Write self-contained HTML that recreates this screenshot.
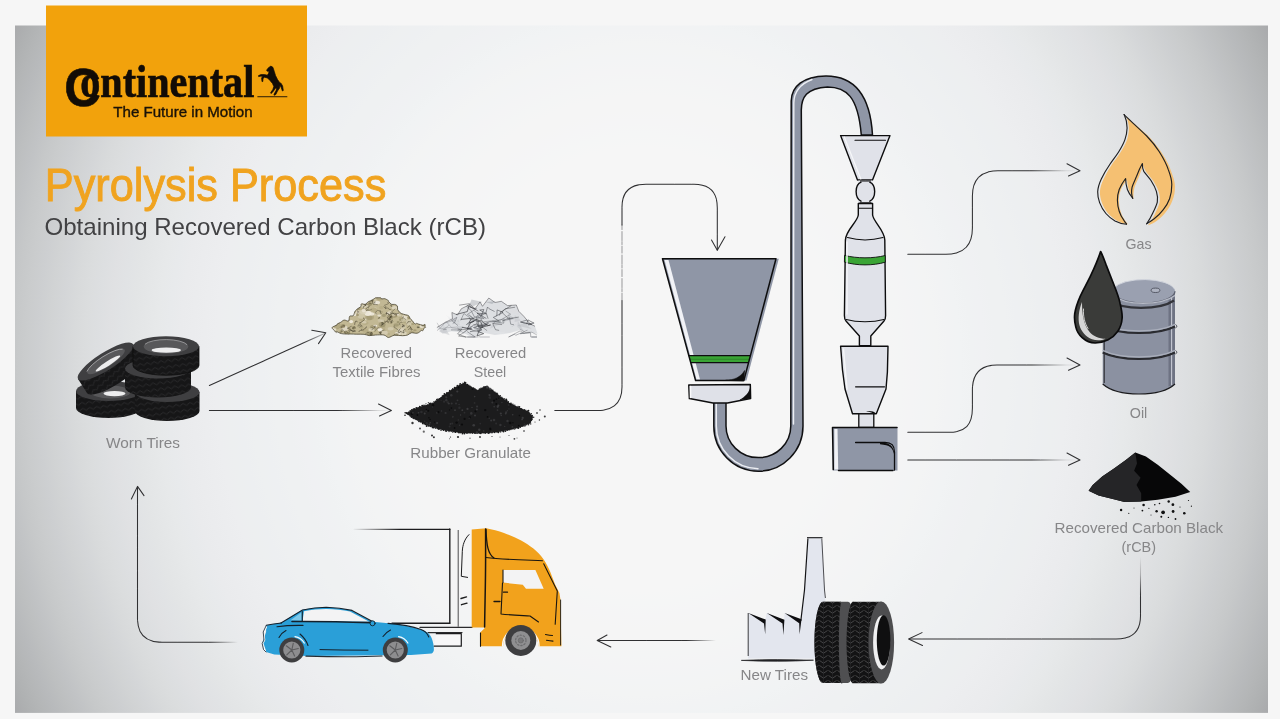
<!DOCTYPE html>
<html lang="en">
<head>
<meta charset="utf-8">
<title>Pyrolysis Process - Obtaining Recovered Carbon Black (rCB)</title>
<style>
html,body{margin:0;padding:0;background:#f6f6f6;}
body{width:1280px;height:719px;overflow:hidden;font-family:"Liberation Sans",sans-serif;}
svg{display:block;position:absolute;left:0;top:0;will-change:transform;}
text{font-family:"Liberation Sans",sans-serif;}
.lbl{font-size:15px;fill:#868688;text-anchor:middle;}
.ln{fill:none;stroke:#303032;stroke-width:1.05;stroke-linecap:round;stroke-linejoin:round;}
.ol{fill:none;stroke:#111;stroke-width:1.4;stroke-linecap:round;stroke-linejoin:round;}
</style>
</head>
<body>
<svg width="1280" height="719" viewBox="0 0 1280 719">
<!-- 00_defs -->
<defs>
  <radialGradient id="bgR" gradientUnits="userSpaceOnUse" cx="0" cy="0" r="1" gradientTransform="translate(641 369) scale(710 781)">
    <stop offset="0.0000" stop-color="rgb(246,246,246)"/><stop offset="0.0167" stop-color="rgb(246,246,246)"/><stop offset="0.0333" stop-color="rgb(246,246,246)"/><stop offset="0.0500" stop-color="rgb(246,246,246)"/><stop offset="0.0667" stop-color="rgb(246,246,246)"/><stop offset="0.0833" stop-color="rgb(246,246,246)"/><stop offset="0.1000" stop-color="rgb(246,246,246)"/><stop offset="0.1167" stop-color="rgb(246,246,246)"/><stop offset="0.1333" stop-color="rgb(246,246,246)"/><stop offset="0.1500" stop-color="rgb(246,246,246)"/><stop offset="0.1667" stop-color="rgb(246,246,246)"/><stop offset="0.1833" stop-color="rgb(246,246,246)"/><stop offset="0.2000" stop-color="rgb(246,246,246)"/><stop offset="0.2167" stop-color="rgb(246,246,246)"/><stop offset="0.2333" stop-color="rgb(246,246,246)"/><stop offset="0.2500" stop-color="rgb(246,246,246)"/><stop offset="0.2667" stop-color="rgb(246,246,246)"/><stop offset="0.2833" stop-color="rgb(246,246,246)"/><stop offset="0.3000" stop-color="rgb(245,246,246)"/><stop offset="0.3167" stop-color="rgb(245,245,246)"/><stop offset="0.3333" stop-color="rgb(245,245,245)"/><stop offset="0.3500" stop-color="rgb(245,245,245)"/><stop offset="0.3667" stop-color="rgb(244,245,245)"/><stop offset="0.3833" stop-color="rgb(244,244,245)"/><stop offset="0.4000" stop-color="rgb(243,244,245)"/><stop offset="0.4167" stop-color="rgb(243,244,244)"/><stop offset="0.4333" stop-color="rgb(242,243,244)"/><stop offset="0.4500" stop-color="rgb(241,243,244)"/><stop offset="0.4667" stop-color="rgb(240,242,243)"/><stop offset="0.4833" stop-color="rgb(240,241,243)"/><stop offset="0.5000" stop-color="rgb(239,241,242)"/><stop offset="0.5167" stop-color="rgb(239,241,242)"/><stop offset="0.5333" stop-color="rgb(238,240,242)"/><stop offset="0.5500" stop-color="rgb(238,240,241)"/><stop offset="0.5667" stop-color="rgb(237,239,241)"/><stop offset="0.5833" stop-color="rgb(237,239,240)"/><stop offset="0.6000" stop-color="rgb(237,238,240)"/><stop offset="0.6167" stop-color="rgb(236,237,239)"/><stop offset="0.6333" stop-color="rgb(235,236,238)"/><stop offset="0.6500" stop-color="rgb(234,235,237)"/><stop offset="0.6667" stop-color="rgb(232,234,236)"/><stop offset="0.6833" stop-color="rgb(231,233,234)"/><stop offset="0.7000" stop-color="rgb(229,231,232)"/><stop offset="0.7167" stop-color="rgb(227,229,230)"/><stop offset="0.7333" stop-color="rgb(225,227,229)"/><stop offset="0.7500" stop-color="rgb(224,225,227)"/><stop offset="0.7667" stop-color="rgb(221,223,225)"/><stop offset="0.7833" stop-color="rgb(219,221,222)"/><stop offset="0.8000" stop-color="rgb(216,218,219)"/><stop offset="0.8167" stop-color="rgb(212,214,216)"/><stop offset="0.8333" stop-color="rgb(209,211,212)"/><stop offset="0.8500" stop-color="rgb(205,207,209)"/><stop offset="0.8667" stop-color="rgb(202,204,205)"/><stop offset="0.8833" stop-color="rgb(198,200,201)"/><stop offset="0.9000" stop-color="rgb(193,195,197)"/><stop offset="0.9167" stop-color="rgb(189,191,192)"/><stop offset="0.9333" stop-color="rgb(184,186,188)"/><stop offset="0.9500" stop-color="rgb(180,182,183)"/><stop offset="0.9667" stop-color="rgb(175,177,178)"/><stop offset="0.9833" stop-color="rgb(170,171,173)"/><stop offset="1.0000" stop-color="rgb(164,165,167)"/>
  </radialGradient>
</defs>
<!-- 05_bg -->
<rect x="0" y="0" width="1280" height="719" fill="#f6f6f6"/>
<rect x="15" y="25.500" width="1253" height="687.400" fill="url(#bgR)"/>
<!-- 10_logo -->
<g id="logo">
  <rect x="46" y="5.500" width="261" height="131" fill="#f2a20c"/>
  <text fill="#120c06" stroke="#120c06" font-weight="bold"><tspan x="64.300" y="106" font-size="54.500" stroke-width="0.600" textLength="36.500" lengthAdjust="spacingAndGlyphs" style="font-family:'Liberation Sans',sans-serif">C</tspan><tspan x="80.300" y="97" font-size="46.500" stroke-width="0.700" textLength="174" lengthAdjust="spacingAndGlyphs" style="font-family:'Liberation Serif',serif">ontinental</tspan></text>
  <text x="113.300" y="116.800" font-size="14.200" fill="#1a1208" textLength="139.300" lengthAdjust="spacingAndGlyphs" stroke="#1a1208" stroke-width="0.350">The Future in Motion</text>
  <!-- rearing horse mark -->
  <path d="M257.400 96.700H287.300" stroke="#3a2606" stroke-width="1.100" fill="none"/>
  <path fill="#120c06" stroke="#120c06" stroke-width="0.700" stroke-linejoin="round" d="M270.900 66.100L272.900 67.300L274.300 71.500L275.500 75.500L277.500 79.500L280 83L281 83.200L282.600 86L283.300 90.500L282.400 91L281.200 87.500L280 85.200L279.600 88L277.500 91L275.800 94.500L274.200 95.300L274 94.300L276 90.800L276.600 88.600L275.300 88.200L273.500 91L271.200 93.600L270.600 92.800L272.800 89.500L273.800 86.500L272.500 83.500L270 80.500L267.500 78L264.500 77.200L263 78.500L262.800 81.500L262 81.600L261.600 78L262.800 76.200L260.500 76.200L258.600 76.600L258.500 75.600L261 74.600L264.500 74.600L267.300 75.200L268.500 73.500L269.200 71.300L267.200 71.200L266.600 70.200L268 68.200L269.800 66.800Z"/>
</g>
<!-- 20_titles -->
<text x="44.800" y="200.600" font-size="45.500" fill="#f0a31f" textLength="341.500" lengthAdjust="spacingAndGlyphs" stroke="#f0a31f" stroke-width="0.900">Pyrolysis Process</text>
<text x="44.500" y="234.800" font-size="24" fill="#424244" textLength="441.500" lengthAdjust="spacingAndGlyphs">Obtaining Recovered Carbon Black (rCB)</text>
<!-- 30_arrows -->
<defs>
  <linearGradient id="fa1" gradientUnits="userSpaceOnUse" x1="209" y1="0" x2="392" y2="0">
    <stop offset="0" stop-color="#303032"/><stop offset="0.7" stop-color="#303032"/><stop offset="0.93" stop-color="#303032" stop-opacity="0.12"/><stop offset="1" stop-color="#303032" stop-opacity="0"/>
  </linearGradient>
  <linearGradient id="fa2" gradientUnits="userSpaceOnUse" x1="209" y1="385" x2="326" y2="333">
    <stop offset="0" stop-color="#303032"/><stop offset="0.8" stop-color="#303032"/><stop offset="1" stop-color="#303032" stop-opacity="0.25"/>
  </linearGradient>
  <linearGradient id="fa3" gradientUnits="userSpaceOnUse" x1="907" y1="0" x2="1080" y2="0">
    <stop offset="0" stop-color="#303032"/><stop offset="0.72" stop-color="#303032"/><stop offset="0.92" stop-color="#303032" stop-opacity="0.12"/><stop offset="1" stop-color="#303032" stop-opacity="0"/>
  </linearGradient>
  <linearGradient id="fa4" gradientUnits="userSpaceOnUse" x1="0" y1="510" x2="0" y2="640">
    <stop offset="0" stop-color="#303032" stop-opacity="0"/><stop offset="0.36" stop-color="#303032" stop-opacity="0"/><stop offset="0.5" stop-color="#303032" stop-opacity="0.3"/><stop offset="0.66" stop-color="#303032"/><stop offset="1" stop-color="#303032"/>
  </linearGradient>
  <linearGradient id="fa5" gradientUnits="userSpaceOnUse" x1="597" y1="0" x2="716" y2="0">
    <stop offset="0" stop-color="#303032"/><stop offset="0.75" stop-color="#303032"/><stop offset="1" stop-color="#303032" stop-opacity="0"/>
  </linearGradient>
  <linearGradient id="fa6" gradientUnits="userSpaceOnUse" x1="137" y1="0" x2="238" y2="0">
    <stop offset="0" stop-color="#303032"/><stop offset="0.72" stop-color="#303032"/><stop offset="1" stop-color="#303032" stop-opacity="0"/>
  </linearGradient>
</defs>
<g class="ln">
  <!-- worn tires -> fibres -->
  <path d="M209.400 385.500L324.500 333.400" stroke="url(#fa2)" stroke-dasharray="17 0.500 31 0.700 11 0.400 23 0.600"/>
  <path d="M311.800 330.200L325.800 332.800L318.500 343.600"/>
  <!-- worn tires -> granulate -->
  <path d="M209.400 410.500H391" stroke="url(#fa1)" stroke-dasharray="17 0.500 31 0.700 11 0.400 23 0.600"/>
  <path d="M378.500 404L391.400 410.500L379.500 416"/>
  <!-- granulate -> hopper -->
  <path d="M554.800 410.500H598C614 410.500 622 402 622 387V300"  stroke-dasharray="17 0.500 31 0.700 11 0.400 23 0.600"/>
  <path d="M622 300V225" stroke-opacity="0.450" stroke-dasharray="7 1.500 3 1 9 2"/>
  <path d="M622 225V207C622 192 630 184.200 646 184.200H694C710 184.200 717.300 192 717.300 208V250" stroke-dasharray="17 0.500 31 0.700 11 0.400 23 0.600"/>
  <path d="M711.500 240L717.300 250.300L725 236.800"/>
  <!-- reactor -> gas -->
  <path d="M907.800 254.300H946C964 254.300 972.400 245 972.400 228V196C972.400 179 981 170.800 998 170.800H1079" stroke="url(#fa3)" stroke-dasharray="17 0.500 31 0.700 11 0.400 23 0.600"/>
  <path d="M1067 163.800L1080 170.800L1068.500 176"/>
  <!-- box -> oil -->
  <path d="M907.800 432.200H950C966 432.200 972.400 424 972.400 408V390C972.400 373 981 365 997 365H1079" stroke="url(#fa3)" stroke-dasharray="17 0.500 31 0.700 11 0.400 23 0.600"/>
  <path d="M1067 358L1080 365L1068.500 370.200"/>
  <!-- box -> rCB -->
  <path d="M907.800 460H1079" stroke="url(#fa3)" stroke-dasharray="17 0.500 31 0.700 11 0.400 23 0.600"/>
  <path d="M1067 453L1080 460L1068.500 465.200"/>
  <!-- rCB -> new tires -->
  <path d="M1140.500 512V616C1140.500 632 1132 639 1116 639H909.500" stroke="url(#fa4)" stroke-dasharray="17 0.500 31 0.700 11 0.400 23 0.600"/>
  <path d="M922 632.600L908.600 639L922.500 645.500"/>
  <!-- new tires -> truck -->
  <path d="M598 640.500H716" stroke="url(#fa5)" stroke-dasharray="17 0.500 31 0.700 11 0.400 23 0.600"/>
  <path d="M607 635L597.200 640.500L610.800 647"/>
  <!-- car -> worn tires -->
  <path d="M137.500 487V618C137.500 635 146 642.200 162 642.200H238" stroke="url(#fa6)" stroke-dasharray="17 0.500 31 0.700 11 0.400 23 0.600"/>
  <path d="M131.400 499L137.500 486.400L144 495.600"/>
</g>
<!-- 40_tires -->
<defs>
  <pattern id="tread" width="7" height="6" patternUnits="userSpaceOnUse" patternTransform="rotate(-8)">
    <rect width="7" height="6" fill="#161617"/>
    <path d="M0 1.500L3.500 4L7 1.500" stroke="#2b2b2d" stroke-width="0.9" fill="none"/>
  </pattern>
  </defs>
<g id="wornTires">
  <!-- bottom-left tire -->
  <g transform="translate(108.500 391)">
    <path d="M-32.500 0V17A32.500 10 0 0 0 32.500 17V0Z" fill="url(#tread)"/>
    <ellipse cx="0" cy="0" rx="32.500" ry="10" fill="#3f3f41"/>
    <ellipse cx="2" cy="1" rx="20" ry="6.500" fill="#58585a"/>
    <ellipse cx="6" cy="2.600" rx="11" ry="2.600" fill="#ededee"/>
  </g>
  <!-- leaning tire -->
  <g transform="translate(105.500 361.500) rotate(-32.500)">
    <path d="M-32.600 0V17A32.600 8.500 0 0 0 32.600 17V0Z" fill="url(#tread)"/>
    <ellipse cx="0" cy="0" rx="32.600" ry="8.800" fill="#3f3f41"/>
    <ellipse cx="0.500" cy="0.200" rx="22" ry="5.800" fill="#58585a"/>
    <path d="M-21 -1.500A22 5.800 0 0 1 21 -1.200" fill="none" stroke="#c4c4c6" stroke-width="0.7" opacity="0.9"/>
    <ellipse cx="1" cy="3" rx="14.500" ry="2.300" fill="#ededee"/>
  </g>
  <!-- bottom-right tire -->
  <g transform="translate(167.200 392)">
    <path d="M-32.300 0V19A32.300 10 0 0 0 32.300 19V0Z" fill="url(#tread)"/>
    <ellipse cx="0" cy="0" rx="32.300" ry="10" fill="#3f3f41"/>
  </g>
  <!-- middle-right tire -->
  <g transform="translate(158 368.500)">
    <path d="M-33 0V19A33 10 0 0 0 33 19V0Z" fill="url(#tread)"/>
    <ellipse cx="0" cy="0" rx="33" ry="10" fill="#3f3f41"/>
  </g>
  <!-- top-right tire -->
  <g transform="translate(166 346.250)">
    <path d="M-33 0V19A33 10 0 0 0 33 19V0Z" fill="url(#tread)"/>
    <path d="M-33 0V19A33 10 0 0 0 33 19V0Z" fill="none" stroke="#0c0c0d" stroke-width="0.8"/>
    <ellipse cx="0" cy="0" rx="33" ry="10" fill="#3f3f41"/>
    <ellipse cx="0" cy="0.200" rx="22.300" ry="7.100" fill="#58585a"/>
    <path d="M-21 -2A22 7 0 0 1 21 -1.500" fill="none" stroke="#bdbdbf" stroke-width="0.7" opacity="0.85"/>
    <ellipse cx="0.300" cy="3.900" rx="14.600" ry="2.700" fill="#ededee"/>
  </g>
</g>
<!-- 45_piles -->
<g id="fibres">
<path d="M332.0 327.8C332.0 326.9 334.2 326.3 335.0 325.9C335.8 325.4 336.4 325.4 336.8 325.1C337.2 324.8 336.8 324.3 337.5 323.8C338.1 323.4 339.6 323.0 340.7 322.3C341.8 321.7 342.8 320.3 344.1 320.1C345.4 319.8 347.6 321.6 348.6 321.0C349.5 320.4 348.9 317.2 349.7 316.3C350.5 315.4 352.4 316.5 353.3 315.6C354.2 314.7 354.3 312.3 355.2 311.0C356.2 309.7 357.9 308.6 358.9 307.9C359.9 307.1 360.6 307.2 361.0 306.5C361.4 305.8 360.7 304.2 361.4 303.9C362.1 303.5 364.1 304.6 365.2 304.3C366.3 304.0 366.9 302.7 368.1 301.9C369.4 301.2 371.8 300.3 372.9 299.6C374.1 299.0 374.6 298.3 375.1 298.0C375.7 297.7 375.2 297.8 376.1 297.8C377.0 297.8 379.6 297.6 380.5 297.8C381.5 298.0 381.2 298.8 381.9 298.9C382.6 299.1 383.7 298.4 384.8 298.7C385.9 299.0 387.7 300.1 388.4 300.6C389.1 301.1 388.3 301.2 388.8 301.9C389.4 302.5 390.8 304.0 391.7 304.4C392.7 304.8 393.6 304.1 394.5 304.4C395.4 304.6 396.8 305.0 397.3 305.9C397.8 306.9 397.4 309.0 397.6 309.9C397.9 310.8 398.4 310.7 399.0 311.3C399.5 311.9 400.0 312.9 401.1 313.5C402.2 314.0 404.5 314.4 405.7 314.8C407.0 315.2 407.9 315.1 408.6 315.7C409.4 316.4 409.6 317.9 410.2 318.6C410.7 319.4 411.1 319.4 411.9 320.3C412.7 321.1 414.0 323.3 414.8 323.8C415.6 324.4 416.0 323.4 416.6 323.4C417.2 323.4 417.2 323.7 418.2 324.0C419.3 324.3 421.8 325.2 422.9 325.3C424.1 325.3 424.6 324.1 425.0 324.4C425.3 324.6 425.0 326.2 425.1 326.7C425.2 327.2 425.7 327.2 425.6 327.4C425.5 327.5 425.0 327.0 424.5 327.6C424.0 328.2 423.2 330.3 422.7 330.8C422.2 331.3 422.3 330.1 421.4 330.5C420.5 330.9 418.9 332.9 417.2 333.2C415.5 333.6 412.9 332.5 411.3 332.8C409.7 333.1 409.2 334.5 407.6 335.0C406.1 335.4 404.5 335.7 402.3 335.7C400.1 335.8 396.8 334.9 394.5 335.2C392.2 335.5 390.1 337.5 388.4 337.5C386.6 337.4 386.1 335.4 384.0 335.0C381.8 334.6 377.9 334.9 375.4 335.0C373.0 335.1 371.1 335.7 369.2 335.6C367.3 335.4 366.3 334.5 364.1 334.3C361.9 334.1 358.4 334.2 356.2 334.2C354.0 334.1 352.3 334.0 350.9 334.0C349.5 334.0 349.3 334.2 347.7 334.1C346.1 334.0 343.3 334.0 341.4 333.6C339.6 333.2 337.7 331.9 336.8 331.7C336.0 331.5 336.6 332.5 336.2 332.5C335.9 332.4 335.6 331.9 334.9 331.1C334.2 330.3 332.0 328.6 332.0 327.8Z" fill="#c2b894"/>
<clipPath id="fibClip"><path d="M332.0 327.8C332.0 326.9 334.2 326.3 335.0 325.9C335.8 325.4 336.4 325.4 336.8 325.1C337.2 324.8 336.8 324.3 337.5 323.8C338.1 323.4 339.6 323.0 340.7 322.3C341.8 321.7 342.8 320.3 344.1 320.1C345.4 319.8 347.6 321.6 348.6 321.0C349.5 320.4 348.9 317.2 349.7 316.3C350.5 315.4 352.4 316.5 353.3 315.6C354.2 314.7 354.3 312.3 355.2 311.0C356.2 309.7 357.9 308.6 358.9 307.9C359.9 307.1 360.6 307.2 361.0 306.5C361.4 305.8 360.7 304.2 361.4 303.9C362.1 303.5 364.1 304.6 365.2 304.3C366.3 304.0 366.9 302.7 368.1 301.9C369.4 301.2 371.8 300.3 372.9 299.6C374.1 299.0 374.6 298.3 375.1 298.0C375.7 297.7 375.2 297.8 376.1 297.8C377.0 297.8 379.6 297.6 380.5 297.8C381.5 298.0 381.2 298.8 381.9 298.9C382.6 299.1 383.7 298.4 384.8 298.7C385.9 299.0 387.7 300.1 388.4 300.6C389.1 301.1 388.3 301.2 388.8 301.9C389.4 302.5 390.8 304.0 391.7 304.4C392.7 304.8 393.6 304.1 394.5 304.4C395.4 304.6 396.8 305.0 397.3 305.9C397.8 306.9 397.4 309.0 397.6 309.9C397.9 310.8 398.4 310.7 399.0 311.3C399.5 311.9 400.0 312.9 401.1 313.5C402.2 314.0 404.5 314.4 405.7 314.8C407.0 315.2 407.9 315.1 408.6 315.7C409.4 316.4 409.6 317.9 410.2 318.6C410.7 319.4 411.1 319.4 411.9 320.3C412.7 321.1 414.0 323.3 414.8 323.8C415.6 324.4 416.0 323.4 416.6 323.4C417.2 323.4 417.2 323.7 418.2 324.0C419.3 324.3 421.8 325.2 422.9 325.3C424.1 325.3 424.6 324.1 425.0 324.4C425.3 324.6 425.0 326.2 425.1 326.7C425.2 327.2 425.7 327.2 425.6 327.4C425.5 327.5 425.0 327.0 424.5 327.6C424.0 328.2 423.2 330.3 422.7 330.8C422.2 331.3 422.3 330.1 421.4 330.5C420.5 330.9 418.9 332.9 417.2 333.2C415.5 333.6 412.9 332.5 411.3 332.8C409.7 333.1 409.2 334.5 407.6 335.0C406.1 335.4 404.5 335.7 402.3 335.7C400.1 335.8 396.8 334.9 394.5 335.2C392.2 335.5 390.1 337.5 388.4 337.5C386.6 337.4 386.1 335.4 384.0 335.0C381.8 334.6 377.9 334.9 375.4 335.0C373.0 335.1 371.1 335.7 369.2 335.6C367.3 335.4 366.3 334.5 364.1 334.3C361.9 334.1 358.4 334.2 356.2 334.2C354.0 334.1 352.3 334.0 350.9 334.0C349.5 334.0 349.3 334.2 347.7 334.1C346.1 334.0 343.3 334.0 341.4 333.6C339.6 333.2 337.7 331.9 336.8 331.7C336.0 331.5 336.6 332.5 336.2 332.5C335.9 332.4 335.6 331.9 334.9 331.1C334.2 330.3 332.0 328.6 332.0 327.8Z"/></clipPath>
<g clip-path="url(#fibClip)">
<ellipse cx="369.9" cy="313.6" rx="1.4" ry="1.1" fill="#ddd6bf" opacity="0.63"/>
<ellipse cx="383.4" cy="335.0" rx="2.7" ry="1.4" fill="#d3cbb0" opacity="0.80"/>
<ellipse cx="365.7" cy="312.2" rx="1.5" ry="1.3" fill="#8f8763" opacity="0.74"/>
<ellipse cx="403.5" cy="326.9" rx="2.3" ry="1.8" fill="#ddd6bf" opacity="0.63"/>
<ellipse cx="397.9" cy="333.7" rx="3.0" ry="1.9" fill="#ece6d8" opacity="0.83"/>
<ellipse cx="357.5" cy="312.3" rx="1.6" ry="1.3" fill="#f1ece1" opacity="0.80"/>
<ellipse cx="390.6" cy="328.7" rx="3.0" ry="1.7" fill="#d3cbb0" opacity="0.88"/>
<ellipse cx="381.7" cy="311.9" rx="1.3" ry="0.6" fill="#9d936e" opacity="0.74"/>
<ellipse cx="351.2" cy="321.6" rx="2.0" ry="1.7" fill="#f1ece1" opacity="0.93"/>
<ellipse cx="367.3" cy="306.6" rx="1.7" ry="1.0" fill="#d3cbb0" opacity="0.74"/>
<ellipse cx="365.3" cy="323.1" rx="3.2" ry="1.8" fill="#b6ac86" opacity="0.86"/>
<ellipse cx="403.5" cy="316.6" rx="1.6" ry="1.3" fill="#f1ece1" opacity="0.58"/>
<ellipse cx="421.9" cy="326.2" rx="2.3" ry="1.8" fill="#ece6d8" opacity="0.84"/>
<ellipse cx="347.2" cy="333.3" rx="3.1" ry="1.8" fill="#8f8763" opacity="0.81"/>
<ellipse cx="365.9" cy="319.4" rx="1.5" ry="0.8" fill="#ece6d8" opacity="0.76"/>
<ellipse cx="414.9" cy="330.2" rx="1.7" ry="1.0" fill="#9d936e" opacity="0.75"/>
<ellipse cx="384.2" cy="330.5" rx="1.3" ry="1.1" fill="#8f8763" opacity="0.81"/>
<ellipse cx="410.8" cy="332.2" rx="1.5" ry="0.8" fill="#ddd6bf" opacity="0.90"/>
<ellipse cx="406.0" cy="321.7" rx="3.1" ry="1.7" fill="#aca27c" opacity="0.74"/>
<ellipse cx="401.2" cy="319.7" rx="2.0" ry="1.4" fill="#8f8763" opacity="0.86"/>
<ellipse cx="405.6" cy="317.8" rx="2.5" ry="2.0" fill="#ece6d8" opacity="0.73"/>
<ellipse cx="390.6" cy="317.7" rx="2.4" ry="1.9" fill="#8f8763" opacity="0.75"/>
<ellipse cx="408.9" cy="317.8" rx="1.8" ry="1.3" fill="#9d936e" opacity="0.92"/>
<ellipse cx="375.1" cy="314.2" rx="2.1" ry="1.3" fill="#d3cbb0" opacity="0.72"/>
<ellipse cx="344.5" cy="328.3" rx="3.5" ry="2.6" fill="#f1ece1" opacity="0.61"/>
<ellipse cx="370.4" cy="317.0" rx="3.6" ry="3.0" fill="#aca27c" opacity="0.83"/>
<ellipse cx="372.6" cy="311.9" rx="1.4" ry="0.9" fill="#f1ece1" opacity="0.77"/>
<ellipse cx="364.2" cy="322.3" rx="2.4" ry="1.3" fill="#d3cbb0" opacity="0.94"/>
<ellipse cx="336.7" cy="328.4" rx="1.8" ry="1.0" fill="#b6ac86" opacity="0.89"/>
<ellipse cx="396.5" cy="334.9" rx="2.2" ry="1.6" fill="#8f8763" opacity="0.83"/>
<ellipse cx="397.7" cy="314.6" rx="1.4" ry="1.2" fill="#ece6d8" opacity="0.87"/>
<ellipse cx="340.9" cy="331.4" rx="1.4" ry="1.1" fill="#8f8763" opacity="0.55"/>
<ellipse cx="337.1" cy="325.7" rx="3.5" ry="3.1" fill="#9d936e" opacity="0.57"/>
<ellipse cx="361.7" cy="327.6" rx="1.9" ry="1.3" fill="#aca27c" opacity="0.66"/>
<ellipse cx="381.3" cy="307.6" rx="2.3" ry="1.7" fill="#b6ac86" opacity="0.81"/>
<ellipse cx="384.3" cy="332.7" rx="3.5" ry="2.2" fill="#d3cbb0" opacity="0.94"/>
<ellipse cx="365.2" cy="330.5" rx="2.9" ry="2.2" fill="#b6ac86" opacity="0.95"/>
<ellipse cx="368.8" cy="317.7" rx="3.5" ry="2.6" fill="#9d936e" opacity="0.57"/>
<ellipse cx="394.7" cy="307.7" rx="3.1" ry="1.6" fill="#ece6d8" opacity="0.61"/>
<ellipse cx="388.2" cy="313.4" rx="1.9" ry="1.4" fill="#ece6d8" opacity="0.78"/>
<ellipse cx="382.7" cy="327.3" rx="2.8" ry="2.2" fill="#b6ac86" opacity="0.86"/>
<ellipse cx="400.7" cy="317.3" rx="1.9" ry="1.4" fill="#aca27c" opacity="0.57"/>
<ellipse cx="411.5" cy="332.8" rx="2.7" ry="2.1" fill="#aca27c" opacity="0.91"/>
<ellipse cx="403.8" cy="320.2" rx="3.2" ry="1.6" fill="#d3cbb0" opacity="0.58"/>
<ellipse cx="375.4" cy="300.0" rx="1.2" ry="0.9" fill="#d3cbb0" opacity="0.75"/>
<ellipse cx="333.3" cy="329.1" rx="3.0" ry="2.1" fill="#ece6d8" opacity="0.81"/>
<ellipse cx="339.2" cy="326.7" rx="1.8" ry="1.0" fill="#9d936e" opacity="0.64"/>
<ellipse cx="394.1" cy="316.0" rx="3.2" ry="1.7" fill="#9d936e" opacity="0.86"/>
<ellipse cx="391.0" cy="323.1" rx="1.4" ry="0.8" fill="#9d936e" opacity="0.81"/>
<ellipse cx="398.1" cy="322.2" rx="1.5" ry="1.1" fill="#8f8763" opacity="0.66"/>
<ellipse cx="396.2" cy="325.0" rx="2.8" ry="1.7" fill="#9d936e" opacity="0.74"/>
<ellipse cx="376.8" cy="302.6" rx="3.3" ry="1.9" fill="#ece6d8" opacity="0.92"/>
<ellipse cx="375.2" cy="308.5" rx="1.7" ry="1.5" fill="#d3cbb0" opacity="0.58"/>
<ellipse cx="341.5" cy="327.2" rx="1.8" ry="1.2" fill="#9d936e" opacity="0.90"/>
<ellipse cx="379.2" cy="315.6" rx="1.9" ry="1.1" fill="#f1ece1" opacity="0.70"/>
<ellipse cx="363.5" cy="311.2" rx="2.2" ry="1.9" fill="#d3cbb0" opacity="0.84"/>
<ellipse cx="368.0" cy="313.3" rx="3.6" ry="2.6" fill="#f1ece1" opacity="0.92"/>
<ellipse cx="404.0" cy="331.3" rx="1.9" ry="1.0" fill="#9d936e" opacity="0.80"/>
<ellipse cx="374.0" cy="310.3" rx="3.1" ry="2.5" fill="#b6ac86" opacity="0.90"/>
<ellipse cx="409.3" cy="322.6" rx="3.4" ry="3.0" fill="#d3cbb0" opacity="0.84"/>
<ellipse cx="337.7" cy="326.6" rx="2.3" ry="1.8" fill="#9d936e" opacity="0.74"/>
<ellipse cx="359.5" cy="308.0" rx="3.0" ry="2.3" fill="#b6ac86" opacity="0.81"/>
<ellipse cx="361.3" cy="319.7" rx="2.1" ry="1.2" fill="#aca27c" opacity="0.58"/>
<ellipse cx="380.1" cy="329.7" rx="2.5" ry="1.7" fill="#f1ece1" opacity="0.95"/>
<ellipse cx="375.3" cy="303.4" rx="1.7" ry="0.9" fill="#f1ece1" opacity="0.77"/>
<ellipse cx="363.0" cy="312.4" rx="3.1" ry="1.8" fill="#ddd6bf" opacity="0.85"/>
<ellipse cx="371.8" cy="314.1" rx="2.5" ry="1.6" fill="#f1ece1" opacity="0.85"/>
<ellipse cx="379.8" cy="320.4" rx="2.1" ry="1.6" fill="#d3cbb0" opacity="0.59"/>
<ellipse cx="393.7" cy="314.8" rx="1.9" ry="1.6" fill="#ddd6bf" opacity="0.60"/>
<ellipse cx="373.0" cy="327.8" rx="3.1" ry="2.8" fill="#8f8763" opacity="0.55"/>
<ellipse cx="369.8" cy="334.1" rx="3.2" ry="2.7" fill="#8f8763" opacity="0.65"/>
<ellipse cx="382.1" cy="324.6" rx="3.5" ry="2.7" fill="#8f8763" opacity="0.58"/>
<ellipse cx="336.5" cy="325.9" rx="3.5" ry="2.6" fill="#b6ac86" opacity="0.83"/>
<ellipse cx="382.3" cy="320.7" rx="2.1" ry="1.3" fill="#ddd6bf" opacity="0.55"/>
<ellipse cx="361.3" cy="316.0" rx="3.5" ry="2.7" fill="#d3cbb0" opacity="0.74"/>
<ellipse cx="423.3" cy="325.5" rx="1.9" ry="1.0" fill="#8f8763" opacity="0.90"/>
<ellipse cx="354.4" cy="314.5" rx="2.1" ry="1.5" fill="#f1ece1" opacity="0.84"/>
<ellipse cx="367.1" cy="313.5" rx="1.2" ry="0.8" fill="#ece6d8" opacity="0.63"/>
<ellipse cx="353.8" cy="327.7" rx="1.9" ry="1.7" fill="#8f8763" opacity="0.79"/>
<ellipse cx="388.9" cy="334.0" rx="1.3" ry="0.7" fill="#aca27c" opacity="0.72"/>
<ellipse cx="375.3" cy="325.8" rx="2.0" ry="1.1" fill="#ece6d8" opacity="0.92"/>
<ellipse cx="363.9" cy="305.2" rx="3.4" ry="2.8" fill="#ddd6bf" opacity="0.67"/>
<ellipse cx="401.2" cy="330.7" rx="3.6" ry="2.4" fill="#ece6d8" opacity="0.55"/>
<ellipse cx="359.3" cy="311.7" rx="3.5" ry="1.9" fill="#d3cbb0" opacity="0.70"/>
<ellipse cx="383.9" cy="315.4" rx="2.0" ry="1.6" fill="#8f8763" opacity="0.56"/>
<ellipse cx="371.6" cy="329.7" rx="3.0" ry="1.6" fill="#ddd6bf" opacity="0.74"/>
<ellipse cx="389.9" cy="312.2" rx="2.0" ry="1.8" fill="#ddd6bf" opacity="0.65"/>
<ellipse cx="404.0" cy="333.7" rx="2.7" ry="2.4" fill="#ddd6bf" opacity="0.88"/>
<ellipse cx="343.1" cy="325.9" rx="2.3" ry="1.9" fill="#9d936e" opacity="0.92"/>
<ellipse cx="379.7" cy="298.3" rx="3.4" ry="2.1" fill="#aca27c" opacity="0.79"/>
<ellipse cx="363.8" cy="310.5" rx="2.1" ry="1.7" fill="#ece6d8" opacity="0.75"/>
<ellipse cx="369.8" cy="304.2" rx="2.2" ry="1.7" fill="#8f8763" opacity="0.77"/>
<ellipse cx="399.7" cy="315.4" rx="1.8" ry="1.2" fill="#d3cbb0" opacity="0.85"/>
<ellipse cx="412.6" cy="323.9" rx="1.5" ry="1.2" fill="#9d936e" opacity="0.66"/>
<ellipse cx="357.5" cy="315.1" rx="1.6" ry="1.0" fill="#9d936e" opacity="0.90"/>
<path d="M386.9 312.1C386.6 312.2 386.4 314.1 386.3 314.3C386.2 314.4 386.0 313.2 386.3 313.1C386.6 313.0 388.1 313.9 388.2 313.8" fill="none" stroke="#474230" stroke-width="0.75" opacity="0.90"/>
<path d="M408.1 329.6C408.6 329.5 410.4 328.2 410.6 327.6C410.8 326.9 409.8 325.8 409.3 325.9C408.8 325.9 407.7 327.3 407.5 328.0" fill="none" stroke="#474230" stroke-width="0.75" opacity="0.73"/>
<path d="M358.9 327.4C359.1 327.5 361.0 325.9 361.5 325.7C362.1 325.5 362.3 326.2 362.1 326.2C361.9 326.2 361.0 325.5 360.4 325.7" fill="none" stroke="#474230" stroke-width="0.75" opacity="0.56"/>
<path d="M388.7 323.2C389.2 323.2 387.4 321.2 387.0 321.0C386.5 320.8 386.4 321.8 385.9 321.8C385.4 321.8 383.6 320.7 384.0 321.0" fill="none" stroke="#474230" stroke-width="0.75" opacity="0.58"/>
<path d="M406.0 319.6C406.0 319.9 403.9 318.1 403.4 317.9C402.8 317.6 402.7 318.4 402.7 318.1C402.8 317.8 403.0 316.0 403.6 316.3" fill="none" stroke="#474230" stroke-width="0.75" opacity="0.57"/>
<path d="M397.2 314.9C396.7 315.2 395.7 314.4 395.9 314.1C396.1 313.8 398.1 313.5 398.6 313.3C399.1 313.0 399.3 312.4 399.0 312.6" fill="none" stroke="#474230" stroke-width="0.75" opacity="0.67"/>
<path d="M368.0 307.7C368.6 307.2 369.6 306.3 369.4 306.4C369.1 306.5 367.0 307.6 366.4 308.2C365.8 308.7 365.7 309.7 366.0 309.6" fill="none" stroke="#474230" stroke-width="0.75" opacity="0.66"/>
<path d="M384.5 322.8C384.4 323.1 386.5 321.4 387.0 321.0C387.5 320.6 387.6 320.8 387.7 320.4C387.9 320.1 388.3 318.5 387.8 318.8" fill="none" stroke="#474230" stroke-width="0.75" opacity="0.61"/>
<path d="M381.9 332.5C381.9 332.4 379.6 332.1 379.5 332.4C379.4 332.8 381.3 334.4 381.3 334.5C381.3 334.5 379.4 333.2 379.5 332.8" fill="none" stroke="#474230" stroke-width="0.75" opacity="0.88"/>
<path d="M340.7 332.5C340.9 332.0 340.0 333.7 340.0 334.3C340.0 334.8 341.0 335.2 340.7 335.7C340.5 336.1 338.7 337.5 338.7 337.0" fill="none" stroke="#474230" stroke-width="0.75" opacity="0.59"/>
<path d="M371.6 329.8C371.9 329.9 373.5 328.7 373.6 328.4C373.6 328.1 372.1 328.1 371.9 327.9C371.6 327.8 372.0 327.1 372.0 327.4" fill="none" stroke="#474230" stroke-width="0.75" opacity="0.55"/>
<path d="M357.7 325.6C358.1 325.2 359.7 323.8 360.1 323.6C360.6 323.5 360.9 324.3 360.5 324.8C360.1 325.2 358.2 326.1 357.7 326.2" fill="none" stroke="#474230" stroke-width="0.75" opacity="0.55"/>
<path d="M388.8 319.7C388.9 319.5 389.5 318.9 389.5 318.8C389.6 318.8 389.2 319.0 389.0 319.2C388.9 319.4 388.6 319.8 388.6 319.9" fill="none" stroke="#474230" stroke-width="0.75" opacity="0.68"/>
<path d="M374.6 301.8C374.6 301.6 375.4 301.6 375.3 301.7C375.1 301.9 373.7 302.7 373.7 302.9C373.7 303.1 375.2 302.9 375.4 302.7" fill="none" stroke="#474230" stroke-width="0.75" opacity="0.57"/>
<path d="M377.6 304.6C378.0 305.0 376.2 304.4 375.4 304.3C374.6 304.2 373.4 304.5 373.0 304.1C372.6 303.7 372.2 302.0 373.0 302.1" fill="none" stroke="#474230" stroke-width="0.75" opacity="0.75"/>
<path d="M343.2 325.9C343.8 325.6 345.1 326.0 344.9 326.0C344.7 326.0 342.8 325.7 342.2 326.0C341.7 326.3 341.3 328.0 341.5 328.0" fill="none" stroke="#474230" stroke-width="0.75" opacity="0.55"/>
<path d="M400.4 328.7C400.0 328.6 398.9 330.1 398.6 330.8C398.3 331.5 398.1 332.7 398.5 332.8C398.9 332.9 400.7 332.1 401.0 331.4" fill="none" stroke="#474230" stroke-width="0.75" opacity="0.82"/>
<path d="M366.9 326.7C367.5 326.5 365.4 327.9 364.8 328.5C364.3 329.0 364.1 329.6 363.5 329.8C362.9 330.1 360.8 330.4 361.3 329.9" fill="none" stroke="#474230" stroke-width="0.75" opacity="0.87"/>
<path d="M380.5 311.8C380.7 311.2 378.6 310.4 377.7 310.4C376.9 310.5 375.9 311.8 375.7 312.4C375.6 313.0 376.0 314.2 376.8 314.1" fill="none" stroke="#474230" stroke-width="0.75" opacity="0.57"/>
<path d="M382.7 322.6C382.3 322.9 381.9 323.9 381.9 324.3C381.8 324.6 381.8 324.9 382.2 324.6C382.6 324.4 384.4 323.2 384.5 322.9" fill="none" stroke="#474230" stroke-width="0.75" opacity="0.90"/>
<path d="M391.4 314.4C391.1 314.2 392.4 313.5 393.2 313.4C394.0 313.3 395.8 313.5 396.1 313.7C396.5 314.0 396.1 314.8 395.3 314.9" fill="none" stroke="#474230" stroke-width="0.75" opacity="0.68"/>
<path d="M351.6 326.3C351.3 326.1 349.5 327.4 348.8 327.7C348.1 328.0 347.1 328.1 347.4 328.3C347.6 328.5 349.6 329.0 350.3 328.7" fill="none" stroke="#474230" stroke-width="0.75" opacity="0.77"/>
<path d="M390.2 315.7C390.4 316.2 390.6 317.3 390.3 317.4C389.9 317.5 388.3 316.8 388.1 316.2C387.9 315.7 388.6 314.2 389.0 314.1" fill="none" stroke="#474230" stroke-width="0.75" opacity="0.50"/>
<path d="M367.2 304.6C367.4 304.5 366.4 303.5 366.4 303.4C366.3 303.3 367.1 303.6 366.9 303.8C366.7 304.0 365.0 304.2 365.1 304.3" fill="none" stroke="#474230" stroke-width="0.75" opacity="0.69"/>
<path d="M347.9 332.8C347.9 332.5 347.0 331.5 346.3 331.3C345.7 331.1 343.9 331.6 343.9 331.9C343.9 332.2 345.5 333.0 346.1 333.2" fill="none" stroke="#474230" stroke-width="0.75" opacity="0.66"/>
<path d="M392.8 320.1C392.6 320.0 392.1 320.3 391.9 320.8C391.7 321.2 391.3 322.5 391.5 322.7C391.7 322.8 392.7 322.0 392.9 321.6" fill="none" stroke="#474230" stroke-width="0.75" opacity="0.86"/>
<path d="M371.7 309.1C371.8 309.3 370.0 310.1 369.1 310.3C368.1 310.5 366.2 310.8 366.2 310.5C366.1 310.3 367.9 309.2 368.8 309.0" fill="none" stroke="#474230" stroke-width="0.75" opacity="0.58"/>
<path d="M389.5 318.2C390.0 318.7 390.5 319.5 390.4 319.6C390.2 319.7 388.9 319.2 388.4 318.8C387.9 318.3 387.0 316.9 387.2 316.8" fill="none" stroke="#474230" stroke-width="0.75" opacity="0.86"/>
<path d="M404.9 325.3C404.4 325.4 402.2 326.6 401.9 326.8C401.7 327.1 402.9 326.7 403.4 326.7C403.9 326.6 404.6 326.7 404.9 326.5" fill="none" stroke="#474230" stroke-width="0.75" opacity="0.59"/>
<path d="M402.0 324.6C402.3 324.4 403.9 325.4 404.0 325.6C404.2 325.8 402.9 325.6 402.6 325.8C402.3 326.1 402.4 327.3 402.3 327.1" fill="none" stroke="#474230" stroke-width="0.75" opacity="0.71"/>
<path d="M359.3 322.8C359.2 323.4 361.3 322.1 362.1 321.6C363.0 321.0 364.3 320.0 364.4 319.4C364.6 318.9 363.8 317.7 363.0 318.3" fill="none" stroke="#474230" stroke-width="0.75" opacity="0.80"/>
<path d="M419.1 326.4C418.9 326.5 418.4 328.0 418.1 328.0C417.8 328.1 416.8 327.0 417.1 326.9C417.3 326.8 419.2 327.6 419.5 327.5" fill="none" stroke="#474230" stroke-width="0.75" opacity="0.78"/>
<path d="M394.5 334.3C394.4 333.9 394.2 335.3 394.4 335.8C394.5 336.3 395.4 336.9 395.5 337.4C395.7 337.8 395.3 338.9 395.2 338.3" fill="none" stroke="#474230" stroke-width="0.75" opacity="0.73"/>
<path d="M363.1 308.2C363.1 308.8 363.3 306.9 363.8 306.3C364.4 305.8 366.3 305.3 366.3 304.8C366.2 304.2 364.0 302.5 363.4 303.1" fill="none" stroke="#474230" stroke-width="0.75" opacity="0.87"/>
<path d="M366.3 305.8C366.0 305.6 363.8 304.0 363.5 303.8C363.2 303.6 364.3 304.1 364.7 304.4C365.1 304.7 365.6 305.2 365.9 305.4" fill="none" stroke="#474230" stroke-width="0.75" opacity="0.53"/>
<path d="M388.0 313.4C387.2 313.4 389.2 314.8 389.9 314.8C390.6 314.7 391.5 312.9 392.2 312.9C393.0 312.8 395.1 314.6 394.4 314.7" fill="none" stroke="#474230" stroke-width="0.75" opacity="0.88"/>
<path d="M410.6 328.6C410.9 329.1 411.1 330.0 411.4 330.0C411.7 330.1 412.5 329.6 412.2 329.1C411.9 328.7 410.1 327.4 409.8 327.3" fill="none" stroke="#474230" stroke-width="0.75" opacity="0.80"/>
<path d="M373.3 301.7C373.3 301.5 371.9 301.0 371.8 300.8C371.8 300.5 373.1 299.9 373.1 300.2C373.2 300.4 372.0 302.0 372.1 302.2" fill="none" stroke="#474230" stroke-width="0.75" opacity="0.70"/>
<path d="M410.9 322.0C411.1 321.7 408.6 321.5 408.1 321.6C407.6 321.8 407.9 322.5 407.7 322.8C407.5 323.2 406.3 323.9 406.8 323.7" fill="none" stroke="#474230" stroke-width="0.75" opacity="0.72"/>
<path d="M355.1 330.3C355.7 330.5 353.3 331.9 352.6 331.7C351.9 331.6 351.3 329.7 350.6 329.5C350.0 329.4 348.1 330.6 348.8 330.7" fill="none" stroke="#474230" stroke-width="0.75" opacity="0.89"/>
<path d="M379.3 328.1C379.6 327.5 377.8 327.8 377.4 328.1C376.9 328.3 376.8 329.0 376.4 329.5C376.0 330.1 374.5 331.7 375.0 331.5" fill="none" stroke="#474230" stroke-width="0.75" opacity="0.61"/>
<path d="M354.9 324.8C354.5 324.9 354.7 323.7 354.9 323.1C355.0 322.5 355.3 321.4 355.7 321.2C356.1 321.1 357.6 321.5 357.4 322.1" fill="none" stroke="#474230" stroke-width="0.75" opacity="0.81"/>
<path d="M391.3 313.1C390.5 313.7 390.4 313.0 390.7 312.6C391.0 312.2 392.2 311.5 393.0 310.8C393.8 310.2 395.6 308.3 395.3 308.7" fill="none" stroke="#474230" stroke-width="0.75" opacity="0.58"/>
<path d="M359.2 331.6C358.8 331.8 358.8 331.4 359.2 331.1C359.6 330.8 361.1 330.1 361.5 329.9C361.8 329.8 361.6 329.8 361.2 330.1" fill="none" stroke="#474230" stroke-width="0.75" opacity="0.80"/>
<path d="M402.3 323.0C402.4 322.5 401.9 322.1 401.4 322.2C400.9 322.3 399.5 323.3 399.3 323.7C399.1 324.2 399.8 324.9 400.3 324.8" fill="none" stroke="#474230" stroke-width="0.75" opacity="0.57"/>
<path d="M374.6 327.3C374.9 327.2 375.0 325.6 375.1 325.7C375.1 325.7 375.2 327.3 374.9 327.3C374.6 327.4 373.3 326.0 373.3 326.0" fill="none" stroke="#474230" stroke-width="0.75" opacity="0.62"/>
<path d="M397.9 329.7C398.1 330.1 396.4 328.6 395.8 328.2C395.2 327.8 394.5 327.8 394.3 327.4C394.1 327.0 393.8 325.5 394.4 325.9" fill="none" stroke="#474230" stroke-width="0.75" opacity="0.63"/>
<path d="M369.8 334.5C369.7 335.0 371.4 335.5 371.6 335.5C371.8 335.4 371.1 334.7 371.2 334.1C371.3 333.6 372.2 332.4 372.0 332.4" fill="none" stroke="#474230" stroke-width="0.75" opacity="0.58"/>
<path d="M370.2 302.2C369.8 302.2 369.5 303.2 369.6 303.4C369.7 303.6 370.4 303.5 370.7 303.4C371.1 303.4 371.6 303.5 371.5 303.3" fill="none" stroke="#474230" stroke-width="0.75" opacity="0.56"/>
<path d="M389.1 314.8C388.9 314.8 390.4 316.2 390.6 316.6C390.7 316.9 390.0 316.9 390.2 316.9C390.3 316.9 391.8 316.9 391.6 316.5" fill="none" stroke="#474230" stroke-width="0.75" opacity="0.59"/>
<path d="M399.6 330.9C399.1 330.8 400.6 331.5 401.2 331.8C401.8 332.1 402.8 332.5 403.3 332.6C403.8 332.7 404.8 332.7 404.2 332.4" fill="none" stroke="#474230" stroke-width="0.75" opacity="0.63"/>
<path d="M391.3 304.3C391.3 304.3 390.7 305.3 390.8 305.6C390.9 305.9 392.1 306.1 392.1 306.1C392.0 306.2 390.7 306.1 390.6 305.8" fill="none" stroke="#474230" stroke-width="0.75" opacity="0.68"/>
<path d="M390.7 314.9C390.7 314.9 391.9 316.4 391.7 316.8C391.6 317.2 389.9 317.5 389.8 317.5C389.8 317.5 391.4 317.4 391.5 317.0" fill="none" stroke="#474230" stroke-width="0.75" opacity="0.70"/>
<path d="M383.8 306.5C383.7 306.7 385.2 308.4 385.5 308.4C385.8 308.4 385.5 306.9 385.6 306.7C385.7 306.4 386.4 306.9 386.1 306.8" fill="none" stroke="#474230" stroke-width="0.75" opacity="0.79"/>
<path d="M381.1 322.7C381.5 322.3 382.8 322.5 383.0 322.8C383.3 323.2 382.9 324.3 382.5 324.8C382.1 325.3 381.0 326.0 380.8 325.6" fill="none" stroke="#474230" stroke-width="0.75" opacity="0.66"/>
<path d="M371.2 301.5C371.2 301.8 370.6 301.3 370.7 301.1C370.8 300.9 371.9 300.8 371.9 300.5C371.8 300.1 370.6 299.1 370.5 299.2" fill="none" stroke="#474230" stroke-width="0.75" opacity="0.80"/>
<path d="M355.3 328.3C355.3 327.9 355.1 327.0 354.6 327.0C354.1 327.0 352.5 327.9 352.4 328.2C352.3 328.5 353.8 328.8 354.2 328.8" fill="none" stroke="#474230" stroke-width="0.75" opacity="0.69"/>
<path d="M385.5 308.7C385.0 308.5 387.6 307.9 388.2 308.0C388.8 308.2 388.6 309.2 389.1 309.4C389.5 309.7 391.6 309.4 391.0 309.3" fill="none" stroke="#474230" stroke-width="0.75" opacity="0.62"/>
<path d="M384.2 305.3C384.0 305.6 385.6 304.9 386.3 304.6C386.9 304.3 388.1 303.9 388.4 303.6C388.6 303.2 388.3 302.2 387.6 302.5" fill="none" stroke="#474230" stroke-width="0.75" opacity="0.67"/>
<path d="M357.6 311.3C357.6 310.8 357.3 310.9 357.4 310.9C357.6 311.0 358.3 311.2 358.3 311.6C358.3 312.1 357.5 313.6 357.4 313.5" fill="none" stroke="#474230" stroke-width="0.75" opacity="0.84"/>
<path d="M341.0 329.1C341.2 329.3 343.4 329.9 343.5 330.4C343.5 330.8 341.5 332.0 341.3 331.9C341.1 331.7 342.1 330.2 342.1 329.7" fill="none" stroke="#474230" stroke-width="0.75" opacity="0.50"/>
<path d="M349.4 331.7C348.8 331.5 350.5 330.4 351.2 330.3C351.9 330.1 352.9 330.6 353.5 330.8C354.2 331.0 355.9 331.3 355.2 331.5" fill="none" stroke="#474230" stroke-width="0.75" opacity="0.86"/>
<path d="M405.4 329.5C405.4 329.1 403.8 330.0 403.5 330.4C403.3 330.7 403.8 331.0 403.7 331.4C403.7 331.9 403.1 333.4 403.4 333.1" fill="none" stroke="#474230" stroke-width="0.75" opacity="0.72"/>
<path d="M359.3 309.0C360.1 309.0 357.9 309.0 357.1 308.9C356.3 308.9 355.3 308.8 354.5 308.8C353.7 308.8 351.5 308.7 352.3 308.7" fill="none" stroke="#474230" stroke-width="0.75" opacity="0.70"/>
<path d="M383.5 330.3C383.3 330.0 381.0 331.5 380.5 331.8C380.0 332.1 380.2 331.8 380.3 332.1C380.5 332.4 380.8 333.9 381.3 333.6" fill="none" stroke="#474230" stroke-width="0.75" opacity="0.65"/>
<path d="M372.9 333.7C372.6 333.9 370.6 334.5 370.3 334.3C370.0 334.0 370.9 332.4 371.1 332.2C371.4 332.0 371.5 332.7 371.8 333.0" fill="none" stroke="#474230" stroke-width="0.75" opacity="0.87"/>
<path d="M365.1 334.4C364.5 334.6 364.7 334.7 365.1 334.3C365.6 334.0 366.9 332.5 367.5 332.3C368.1 332.0 369.2 332.5 368.8 332.8" fill="none" stroke="#474230" stroke-width="0.75" opacity="0.64"/>
<path d="M377.8 318.9C377.8 318.7 379.2 317.9 379.4 317.6C379.6 317.3 379.0 317.1 379.0 317.3C379.0 317.4 379.5 318.4 379.3 318.7" fill="none" stroke="#474230" stroke-width="0.75" opacity="0.62"/>
<path d="M380.3 310.2C380.3 310.2 380.2 311.8 380.4 312.3C380.5 312.9 381.3 313.5 381.3 313.6C381.3 313.7 380.4 313.4 380.3 312.8" fill="none" stroke="#474230" stroke-width="0.75" opacity="0.62"/>
<path d="M387.6 322.6C387.3 322.6 388.8 320.6 389.3 320.6C389.8 320.5 390.4 322.3 390.6 322.3C390.9 322.2 391.4 320.2 390.9 320.3" fill="none" stroke="#474230" stroke-width="0.75" opacity="0.62"/>
</g>
<path d="M332.0 327.8C332.0 326.9 334.2 326.3 335.0 325.9C335.8 325.4 336.4 325.4 336.8 325.1C337.2 324.8 336.8 324.3 337.5 323.8C338.1 323.4 339.6 323.0 340.7 322.3C341.8 321.7 342.8 320.3 344.1 320.1C345.4 319.8 347.6 321.6 348.6 321.0C349.5 320.4 348.9 317.2 349.7 316.3C350.5 315.4 352.4 316.5 353.3 315.6C354.2 314.7 354.3 312.3 355.2 311.0C356.2 309.7 357.9 308.6 358.9 307.9C359.9 307.1 360.6 307.2 361.0 306.5C361.4 305.8 360.7 304.2 361.4 303.9C362.1 303.5 364.1 304.6 365.2 304.3C366.3 304.0 366.9 302.7 368.1 301.9C369.4 301.2 371.8 300.3 372.9 299.6C374.1 299.0 374.6 298.3 375.1 298.0C375.7 297.7 375.2 297.8 376.1 297.8C377.0 297.8 379.6 297.6 380.5 297.8C381.5 298.0 381.2 298.8 381.9 298.9C382.6 299.1 383.7 298.4 384.8 298.7C385.9 299.0 387.7 300.1 388.4 300.6C389.1 301.1 388.3 301.2 388.8 301.9C389.4 302.5 390.8 304.0 391.7 304.4C392.7 304.8 393.6 304.1 394.5 304.4C395.4 304.6 396.8 305.0 397.3 305.9C397.8 306.9 397.4 309.0 397.6 309.9C397.9 310.8 398.4 310.7 399.0 311.3C399.5 311.9 400.0 312.9 401.1 313.5C402.2 314.0 404.5 314.4 405.7 314.8C407.0 315.2 407.9 315.1 408.6 315.7C409.4 316.4 409.6 317.9 410.2 318.6C410.7 319.4 411.1 319.4 411.9 320.3C412.7 321.1 414.0 323.3 414.8 323.8C415.6 324.4 416.0 323.4 416.6 323.4C417.2 323.4 417.2 323.7 418.2 324.0C419.3 324.3 421.8 325.2 422.9 325.3C424.1 325.3 424.6 324.1 425.0 324.4C425.3 324.6 425.0 326.2 425.1 326.7C425.2 327.2 425.7 327.2 425.6 327.4C425.5 327.5 425.0 327.0 424.5 327.6C424.0 328.2 423.2 330.3 422.7 330.8C422.2 331.3 422.3 330.1 421.4 330.5C420.5 330.9 418.9 332.9 417.2 333.2C415.5 333.6 412.9 332.5 411.3 332.8C409.7 333.1 409.2 334.5 407.6 335.0C406.1 335.4 404.5 335.7 402.3 335.7C400.1 335.8 396.8 334.9 394.5 335.2C392.2 335.5 390.1 337.5 388.4 337.5C386.6 337.4 386.1 335.4 384.0 335.0C381.8 334.6 377.9 334.9 375.4 335.0C373.0 335.1 371.1 335.7 369.2 335.6C367.3 335.4 366.3 334.5 364.1 334.3C361.9 334.1 358.4 334.2 356.2 334.2C354.0 334.1 352.3 334.0 350.9 334.0C349.5 334.0 349.3 334.2 347.7 334.1C346.1 334.0 343.3 334.0 341.4 333.6C339.6 333.2 337.7 331.9 336.8 331.7C336.0 331.5 336.6 332.5 336.2 332.5C335.9 332.4 335.6 331.9 334.9 331.1C334.2 330.3 332.0 328.6 332.0 327.8Z" fill="none" stroke="#4d4835" stroke-width="0.9" opacity="0.9"/>
</g>
<g id="steel">
<polygon points="436.9,327.5 445.0,322.5 452.5,318.8 451.9,312.5 457.5,315.0 461.3,308.8 467.5,305.6 475.0,308.8 480.0,301.9 482.5,306.3 488.8,298.0 495.0,302.5 501.3,301.3 507.5,305.6 516.3,305.0 518.8,311.3 523.8,316.3 530.0,323.8 535.0,326.3 537.5,333.8 530.0,332.5 520.0,330.0 510.0,333.0 495.0,335.0 482.5,332.5 473.8,338.0 462.5,332.5 451.3,331.3 442.5,333.8" fill="#c9ccd1" opacity="0.55"/>
<polygon points="528.4,325.9 533.9,323.4 527.5,323.6" fill="#8d9198" opacity="0.42"/>
<polygon points="491.8,324.7 507.1,321.3 490.2,328.4" fill="#9fa3aa" opacity="0.29"/>
<polygon points="517.4,324.0 511.7,326.3 512.0,326.4" fill="#8d9198" opacity="0.43"/>
<polygon points="524.1,320.1 504.2,319.3 517.0,327.0" fill="#d9dbdf" opacity="0.32"/>
<polygon points="482.3,302.1 471.5,299.4 468.2,308.7" fill="#9fa3aa" opacity="0.45"/>
<polygon points="448.0,318.6 451.8,321.1 462.2,315.8" fill="#d9dbdf" opacity="0.38"/>
<polygon points="454.2,321.9 459.1,319.0 459.8,325.5" fill="#9fa3aa" opacity="0.22"/>
<polygon points="524.1,322.7 517.4,325.7 531.6,329.0" fill="#8d9198" opacity="0.21"/>
<polygon points="473.7,323.3 467.3,325.0 472.1,322.9" fill="#e6e7ea" opacity="0.32"/>
<polygon points="507.0,320.6 508.4,314.0 514.7,319.1" fill="#8d9198" opacity="0.28"/>
<polygon points="503.8,334.7 492.3,332.3 505.1,331.6" fill="#e6e7ea" opacity="0.35"/>
<polygon points="517.9,321.1 517.4,326.9 524.6,332.5" fill="#9fa3aa" opacity="0.27"/>
<polygon points="465.5,325.7 465.1,334.8 455.7,334.5" fill="#e6e7ea" opacity="0.29"/>
<polygon points="519.3,315.3 507.9,310.7 517.7,308.7" fill="#d9dbdf" opacity="0.43"/>
<polygon points="492.2,303.9 495.6,301.3 485.2,301.9" fill="#8d9198" opacity="0.42"/>
<polygon points="521.1,320.4 514.8,314.9 514.6,322.0" fill="#b4b7bd" opacity="0.34"/>
<polygon points="482.2,323.6 483.6,327.1 482.4,325.4" fill="#e6e7ea" opacity="0.40"/>
<polygon points="452.6,321.8 445.5,315.0 466.8,326.6" fill="#e6e7ea" opacity="0.35"/>
<polygon points="456.4,326.0 460.1,333.0 463.6,326.5" fill="#9fa3aa" opacity="0.28"/>
<polygon points="475.0,329.7 484.0,330.0 478.3,330.8" fill="#9fa3aa" opacity="0.26"/>
<polygon points="502.8,325.2 490.5,322.1 485.3,329.4" fill="#d9dbdf" opacity="0.24"/>
<polygon points="439.2,331.7 449.8,335.2 444.1,325.9" fill="#b4b7bd" opacity="0.39"/>
<polyline points="528.3,324.3 530.5,323.5 534.1,323.1 531.0,321.6 528.0,319.9 526.6,324.2" fill="none" stroke="#3b3d42" stroke-width="0.59" stroke-linejoin="round" opacity="0.92"/>
<polyline points="515.1,307.2 505.0,308.8 501.9,312.3 508.6,318.7 518.8,317.1" fill="none" stroke="#3b3d42" stroke-width="0.65" stroke-linejoin="round" opacity="0.73"/>
<polyline points="471.9,329.2 462.7,327.3 458.7,330.6 451.0,329.9 460.4,329.1 451.9,327.9 445.9,321.3" fill="none" stroke="#777a80" stroke-width="0.53" stroke-linejoin="round" opacity="0.62"/>
<polyline points="486.2,312.5 476.9,319.2 466.3,324.7 470.3,320.7 469.8,317.7 463.9,313.5 460.7,320.4" fill="none" stroke="#55585e" stroke-width="0.77" stroke-linejoin="round" opacity="0.59"/>
<polyline points="467.2,331.6 475.2,337.0 466.6,337.0 465.3,337.0" fill="none" stroke="#55585e" stroke-width="0.58" stroke-linejoin="round" opacity="0.87"/>
<polyline points="478.4,311.1 469.8,306.7 476.2,309.6 469.0,303.7 459.1,305.2" fill="none" stroke="#2c2d31" stroke-width="0.70" stroke-linejoin="round" opacity="0.62"/>
<polyline points="452.9,324.1 454.9,319.9 444.4,323.2 442.2,326.3 437.0,330.6" fill="none" stroke="#777a80" stroke-width="0.51" stroke-linejoin="round" opacity="0.81"/>
<polyline points="478.5,327.2 487.4,323.9 479.9,328.5 476.7,323.8 473.6,325.2" fill="none" stroke="#3b3d42" stroke-width="0.54" stroke-linejoin="round" opacity="0.92"/>
<polyline points="473.5,310.1 480.2,315.2 482.1,320.8 477.1,315.3 482.6,314.6 471.2,318.8" fill="none" stroke="#55585e" stroke-width="0.41" stroke-linejoin="round" opacity="0.94"/>
<polyline points="449.1,325.1 443.3,329.8 446.6,329.3 440.3,328.5 437.0,322.8" fill="none" stroke="#55585e" stroke-width="0.42" stroke-linejoin="round" opacity="0.60"/>
<polyline points="486.4,318.5 477.0,313.2 486.3,313.8 479.7,310.0 483.8,309.5 481.3,315.7" fill="none" stroke="#3b3d42" stroke-width="0.78" stroke-linejoin="round" opacity="0.71"/>
<polyline points="479.5,329.7 477.0,335.9 483.7,333.6 477.4,331.3" fill="none" stroke="#2c2d31" stroke-width="0.74" stroke-linejoin="round" opacity="0.78"/>
<polyline points="477.7,320.5 478.1,326.9 488.5,323.4 486.6,325.3 483.4,325.7 473.0,324.8" fill="none" stroke="#3b3d42" stroke-width="0.49" stroke-linejoin="round" opacity="0.72"/>
<polyline points="477.3,334.9 480.5,337.0 489.7,337.0 478.6,337.0 472.9,337.0 467.5,337.0 477.7,337.0" fill="none" stroke="#777a80" stroke-width="0.45" stroke-linejoin="round" opacity="0.56"/>
<polyline points="530.2,332.4 520.2,333.7 530.5,332.8 530.8,337.0 537.0,337.0 531.6,337.0" fill="none" stroke="#777a80" stroke-width="0.74" stroke-linejoin="round" opacity="0.79"/>
<polyline points="493.6,323.5 494.8,321.6 504.2,318.8 503.6,323.3 492.4,321.0" fill="none" stroke="#55585e" stroke-width="0.60" stroke-linejoin="round" opacity="0.70"/>
<polyline points="473.1,330.4 468.9,328.0 463.4,333.3 456.6,327.1 445.1,327.8" fill="none" stroke="#777a80" stroke-width="0.58" stroke-linejoin="round" opacity="0.57"/>
<polyline points="476.5,316.5 477.0,323.4 481.2,329.4 479.2,331.8" fill="none" stroke="#55585e" stroke-width="0.67" stroke-linejoin="round" opacity="0.80"/>
<polyline points="519.9,329.1 525.6,332.5 531.9,332.2 537.0,335.1" fill="none" stroke="#55585e" stroke-width="0.57" stroke-linejoin="round" opacity="0.59"/>
<polyline points="478.6,320.1 478.5,326.6 480.3,325.5 487.1,330.7" fill="none" stroke="#3b3d42" stroke-width="0.55" stroke-linejoin="round" opacity="0.73"/>
<polyline points="483.0,325.9 479.5,326.2 481.8,328.3 470.0,331.7 481.7,330.1 476.9,330.6" fill="none" stroke="#55585e" stroke-width="0.57" stroke-linejoin="round" opacity="0.70"/>
<polyline points="461.8,329.1 457.6,333.9 465.7,337.0 458.6,336.0 468.4,329.1 457.6,330.0" fill="none" stroke="#2c2d31" stroke-width="0.52" stroke-linejoin="round" opacity="0.76"/>
<polyline points="469.4,322.5 469.8,322.7 474.2,321.2 470.8,322.5 467.2,328.8 471.5,329.1 461.9,327.3" fill="none" stroke="#2c2d31" stroke-width="0.66" stroke-linejoin="round" opacity="0.92"/>
<polyline points="479.6,315.3 484.2,318.7 474.4,316.8 471.2,310.8 466.7,306.3 470.4,303.4" fill="none" stroke="#777a80" stroke-width="0.73" stroke-linejoin="round" opacity="0.95"/>
<polyline points="488.1,318.7 486.0,312.5 487.5,307.0 489.2,308.8 494.6,311.5" fill="none" stroke="#3b3d42" stroke-width="0.72" stroke-linejoin="round" opacity="0.67"/>
<polyline points="468.6,329.8 472.7,325.5 472.6,326.3 467.0,328.3" fill="none" stroke="#55585e" stroke-width="0.63" stroke-linejoin="round" opacity="0.71"/>
<polyline points="511.4,305.5 501.2,311.8 501.0,311.3 499.3,315.5" fill="none" stroke="#3b3d42" stroke-width="0.67" stroke-linejoin="round" opacity="0.78"/>
<polyline points="499.1,330.4 495.5,329.7 492.7,323.4 502.1,324.6" fill="none" stroke="#3b3d42" stroke-width="0.58" stroke-linejoin="round" opacity="0.80"/>
<polyline points="527.5,330.2 515.6,335.3 514.6,334.2 508.6,337.0 520.1,330.9 524.4,333.4" fill="none" stroke="#55585e" stroke-width="0.57" stroke-linejoin="round" opacity="0.71"/>
<polyline points="456.0,314.5 467.3,311.6 468.8,306.2 469.6,304.6" fill="none" stroke="#2c2d31" stroke-width="0.66" stroke-linejoin="round" opacity="0.93"/>
<polyline points="479.7,332.1 477.0,331.7 473.3,330.8 468.0,324.1 475.3,320.5" fill="none" stroke="#55585e" stroke-width="0.44" stroke-linejoin="round" opacity="0.66"/>
<polyline points="481.7,329.6 473.5,327.5 478.8,325.8 489.8,321.7 500.7,321.8" fill="none" stroke="#55585e" stroke-width="0.74" stroke-linejoin="round" opacity="0.82"/>
<polyline points="496.0,316.5 496.9,315.2 497.1,309.9 503.1,312.4 493.3,317.4 499.0,321.1" fill="none" stroke="#3b3d42" stroke-width="0.66" stroke-linejoin="round" opacity="0.78"/>
<polyline points="469.2,314.9 473.9,318.7 467.4,314.4 476.8,308.3" fill="none" stroke="#777a80" stroke-width="0.72" stroke-linejoin="round" opacity="0.85"/>
<polyline points="458.1,325.7 451.6,320.5 456.8,317.4 454.4,323.2" fill="none" stroke="#55585e" stroke-width="0.77" stroke-linejoin="round" opacity="0.62"/>
<polyline points="474.5,328.4 484.0,321.7 488.9,321.2 500.9,319.8 510.6,314.2 505.6,311.0" fill="none" stroke="#55585e" stroke-width="0.69" stroke-linejoin="round" opacity="0.57"/>
<polyline points="469.2,323.1 470.8,319.3 470.7,319.5 480.9,321.9 482.7,328.0" fill="none" stroke="#3b3d42" stroke-width="0.73" stroke-linejoin="round" opacity="0.86"/>
<polyline points="520.3,322.0 531.7,324.6 520.6,322.0 527.2,319.9" fill="none" stroke="#3b3d42" stroke-width="0.57" stroke-linejoin="round" opacity="0.85"/>
<polyline points="460.8,319.4 471.5,318.3 481.8,321.0 487.5,325.6 490.6,325.0 479.9,327.8" fill="none" stroke="#2c2d31" stroke-width="0.67" stroke-linejoin="round" opacity="0.89"/>
<polyline points="513.2,318.2 502.2,321.0 509.5,317.6 510.7,324.2 514.0,324.8" fill="none" stroke="#55585e" stroke-width="0.79" stroke-linejoin="round" opacity="0.62"/>
<polyline points="436.9,327.5 445.0,322.5 452.5,318.8 451.9,312.5 457.5,315.0 461.3,308.8 467.5,305.6 475.0,308.8 480.0,301.9 482.5,306.3 488.8,298.0 495.0,302.5 501.3,301.3 507.5,305.6 516.3,305.0 518.8,311.3 523.8,316.3 530.0,323.8 535.0,326.3" fill="none" stroke="#3a3c40" stroke-width="0.6" opacity="0.8"/>
</g>
<g id="granulate">
<polygon points="405.4,413.2 417.7,407.6 432.7,402.9 442.1,396.3 451.5,389.8 459.0,385.1 464.2,382.8 470.2,386.0 477.7,390.3 485.3,386.0 490.9,389.2 500.3,396.3 509.7,402.9 519.1,407.6 528.5,411.4 533.1,417.0 530.3,423.6 517.2,428.3 498.4,432.0 479.6,433.5 460.8,433.0 442.1,430.1 427.0,425.4 415.8,419.8" fill="#1c1c1d"/>
<circle cx="405.2" cy="412.7" r="0.8" fill="#1a1a1b"/>
<circle cx="406.5" cy="412.7" r="0.7" fill="#1a1a1b"/>
<circle cx="408.5" cy="412.0" r="0.5" fill="#1a1a1b"/>
<circle cx="410.2" cy="410.7" r="0.8" fill="#1a1a1b"/>
<circle cx="411.8" cy="410.0" r="0.9" fill="#1a1a1b"/>
<circle cx="413.2" cy="409.4" r="0.8" fill="#1a1a1b"/>
<circle cx="414.2" cy="408.9" r="1.0" fill="#1a1a1b"/>
<circle cx="416.4" cy="407.9" r="1.0" fill="#1a1a1b"/>
<circle cx="418.1" cy="407.5" r="0.6" fill="#1a1a1b"/>
<circle cx="419.6" cy="406.5" r="0.7" fill="#1a1a1b"/>
<circle cx="420.5" cy="407.0" r="0.7" fill="#1a1a1b"/>
<circle cx="422.2" cy="405.8" r="1.0" fill="#1a1a1b"/>
<circle cx="424.0" cy="405.4" r="0.8" fill="#1a1a1b"/>
<circle cx="425.8" cy="405.1" r="0.5" fill="#1a1a1b"/>
<circle cx="427.7" cy="405.0" r="0.7" fill="#1a1a1b"/>
<circle cx="429.7" cy="403.7" r="0.9" fill="#1a1a1b"/>
<circle cx="430.8" cy="403.6" r="1.0" fill="#1a1a1b"/>
<circle cx="432.7" cy="403.2" r="0.7" fill="#1a1a1b"/>
<circle cx="433.9" cy="401.5" r="0.6" fill="#1a1a1b"/>
<circle cx="435.5" cy="401.3" r="0.8" fill="#1a1a1b"/>
<circle cx="436.9" cy="399.6" r="0.9" fill="#1a1a1b"/>
<circle cx="437.5" cy="399.0" r="0.6" fill="#1a1a1b"/>
<circle cx="439.3" cy="398.7" r="0.8" fill="#1a1a1b"/>
<circle cx="441.2" cy="397.5" r="0.6" fill="#1a1a1b"/>
<circle cx="442.4" cy="396.1" r="0.8" fill="#1a1a1b"/>
<circle cx="443.3" cy="395.5" r="0.7" fill="#1a1a1b"/>
<circle cx="444.5" cy="394.0" r="1.0" fill="#1a1a1b"/>
<circle cx="446.5" cy="393.2" r="0.5" fill="#1a1a1b"/>
<circle cx="447.0" cy="392.9" r="1.0" fill="#1a1a1b"/>
<circle cx="449.4" cy="391.5" r="0.5" fill="#1a1a1b"/>
<circle cx="449.8" cy="390.6" r="0.9" fill="#1a1a1b"/>
<circle cx="452.1" cy="389.9" r="0.8" fill="#1a1a1b"/>
<circle cx="452.6" cy="388.5" r="0.6" fill="#1a1a1b"/>
<circle cx="454.7" cy="387.8" r="1.0" fill="#1a1a1b"/>
<circle cx="456.4" cy="387.0" r="0.6" fill="#1a1a1b"/>
<circle cx="457.3" cy="385.5" r="0.8" fill="#1a1a1b"/>
<circle cx="459.4" cy="385.1" r="0.6" fill="#1a1a1b"/>
<circle cx="460.2" cy="383.8" r="0.9" fill="#1a1a1b"/>
<circle cx="462.9" cy="383.0" r="0.5" fill="#1a1a1b"/>
<circle cx="464.7" cy="382.4" r="0.9" fill="#1a1a1b"/>
<circle cx="465.6" cy="383.0" r="0.9" fill="#1a1a1b"/>
<circle cx="467.4" cy="384.5" r="0.7" fill="#1a1a1b"/>
<circle cx="468.8" cy="385.2" r="0.7" fill="#1a1a1b"/>
<circle cx="470.2" cy="386.2" r="0.6" fill="#1a1a1b"/>
<circle cx="471.6" cy="387.0" r="0.5" fill="#1a1a1b"/>
<circle cx="473.6" cy="388.0" r="0.7" fill="#1a1a1b"/>
<circle cx="474.9" cy="388.7" r="0.7" fill="#1a1a1b"/>
<circle cx="476.0" cy="389.6" r="0.6" fill="#1a1a1b"/>
<circle cx="478.1" cy="390.3" r="0.8" fill="#1a1a1b"/>
<circle cx="479.6" cy="389.1" r="0.9" fill="#1a1a1b"/>
<circle cx="481.0" cy="388.2" r="0.8" fill="#1a1a1b"/>
<circle cx="482.3" cy="388.3" r="0.7" fill="#1a1a1b"/>
<circle cx="483.5" cy="386.8" r="0.6" fill="#1a1a1b"/>
<circle cx="485.0" cy="386.6" r="0.6" fill="#1a1a1b"/>
<circle cx="487.0" cy="386.5" r="0.9" fill="#1a1a1b"/>
<circle cx="488.3" cy="387.2" r="0.8" fill="#1a1a1b"/>
<circle cx="489.8" cy="388.1" r="0.7" fill="#1a1a1b"/>
<circle cx="490.9" cy="389.4" r="0.9" fill="#1a1a1b"/>
<circle cx="492.7" cy="390.3" r="0.9" fill="#1a1a1b"/>
<circle cx="493.8" cy="391.6" r="0.6" fill="#1a1a1b"/>
<circle cx="494.9" cy="392.3" r="0.9" fill="#1a1a1b"/>
<circle cx="496.8" cy="393.4" r="1.0" fill="#1a1a1b"/>
<circle cx="497.6" cy="394.2" r="0.8" fill="#1a1a1b"/>
<circle cx="499.0" cy="395.8" r="0.6" fill="#1a1a1b"/>
<circle cx="500.3" cy="395.8" r="0.7" fill="#1a1a1b"/>
<circle cx="501.8" cy="397.1" r="0.5" fill="#1a1a1b"/>
<circle cx="502.4" cy="398.4" r="1.0" fill="#1a1a1b"/>
<circle cx="504.3" cy="398.7" r="0.6" fill="#1a1a1b"/>
<circle cx="506.2" cy="399.6" r="1.0" fill="#1a1a1b"/>
<circle cx="506.7" cy="400.6" r="0.9" fill="#1a1a1b"/>
<circle cx="508.2" cy="401.8" r="0.9" fill="#1a1a1b"/>
<circle cx="510.1" cy="403.2" r="0.5" fill="#1a1a1b"/>
<circle cx="511.0" cy="403.4" r="0.8" fill="#1a1a1b"/>
<circle cx="512.9" cy="404.3" r="0.7" fill="#1a1a1b"/>
<circle cx="514.8" cy="405.1" r="0.7" fill="#1a1a1b"/>
<circle cx="515.8" cy="406.2" r="0.5" fill="#1a1a1b"/>
<circle cx="518.0" cy="406.5" r="0.7" fill="#1a1a1b"/>
<circle cx="519.3" cy="407.0" r="1.0" fill="#1a1a1b"/>
<circle cx="520.6" cy="408.6" r="0.7" fill="#1a1a1b"/>
<circle cx="521.7" cy="408.6" r="0.6" fill="#1a1a1b"/>
<circle cx="524.3" cy="409.9" r="0.8" fill="#1a1a1b"/>
<circle cx="525.8" cy="410.2" r="0.6" fill="#1a1a1b"/>
<circle cx="527.5" cy="411.1" r="0.6" fill="#1a1a1b"/>
<circle cx="528.4" cy="410.8" r="1.0" fill="#1a1a1b"/>
<circle cx="529.6" cy="412.8" r="0.5" fill="#1a1a1b"/>
<circle cx="531.2" cy="413.7" r="0.8" fill="#1a1a1b"/>
<circle cx="532.1" cy="415.7" r="0.9" fill="#1a1a1b"/>
<circle cx="533.7" cy="417.2" r="0.7" fill="#1a1a1b"/>
<circle cx="532.1" cy="419.2" r="0.8" fill="#1a1a1b"/>
<circle cx="531.5" cy="420.3" r="0.7" fill="#1a1a1b"/>
<circle cx="530.6" cy="422.1" r="0.6" fill="#1a1a1b"/>
<circle cx="530.7" cy="423.9" r="0.7" fill="#1a1a1b"/>
<circle cx="528.6" cy="424.7" r="0.7" fill="#1a1a1b"/>
<circle cx="526.8" cy="424.8" r="0.6" fill="#1a1a1b"/>
<circle cx="525.1" cy="425.8" r="0.8" fill="#1a1a1b"/>
<circle cx="523.9" cy="426.2" r="0.6" fill="#1a1a1b"/>
<circle cx="522.0" cy="426.0" r="1.0" fill="#1a1a1b"/>
<circle cx="520.3" cy="427.2" r="0.8" fill="#1a1a1b"/>
<circle cx="518.4" cy="428.0" r="1.0" fill="#1a1a1b"/>
<circle cx="517.7" cy="427.8" r="0.6" fill="#1a1a1b"/>
<circle cx="515.4" cy="428.7" r="0.5" fill="#1a1a1b"/>
<circle cx="514.1" cy="429.3" r="0.6" fill="#1a1a1b"/>
<circle cx="512.4" cy="428.9" r="0.5" fill="#1a1a1b"/>
<circle cx="510.9" cy="429.5" r="0.7" fill="#1a1a1b"/>
<circle cx="509.1" cy="429.7" r="0.9" fill="#1a1a1b"/>
<circle cx="507.2" cy="430.1" r="0.9" fill="#1a1a1b"/>
<circle cx="505.4" cy="431.1" r="0.9" fill="#1a1a1b"/>
<circle cx="503.5" cy="431.5" r="0.9" fill="#1a1a1b"/>
<circle cx="502.4" cy="430.9" r="0.6" fill="#1a1a1b"/>
<circle cx="500.6" cy="431.9" r="0.7" fill="#1a1a1b"/>
<circle cx="498.3" cy="432.3" r="1.0" fill="#1a1a1b"/>
<circle cx="496.8" cy="431.7" r="0.9" fill="#1a1a1b"/>
<circle cx="494.7" cy="432.4" r="0.8" fill="#1a1a1b"/>
<circle cx="493.8" cy="431.9" r="0.6" fill="#1a1a1b"/>
<circle cx="492.1" cy="432.6" r="0.7" fill="#1a1a1b"/>
<circle cx="489.7" cy="432.6" r="1.0" fill="#1a1a1b"/>
<circle cx="488.4" cy="433.1" r="1.0" fill="#1a1a1b"/>
<circle cx="486.8" cy="432.7" r="0.6" fill="#1a1a1b"/>
<circle cx="485.2" cy="433.1" r="0.9" fill="#1a1a1b"/>
<circle cx="483.2" cy="432.9" r="0.5" fill="#1a1a1b"/>
<circle cx="480.8" cy="433.3" r="0.9" fill="#1a1a1b"/>
<circle cx="479.3" cy="433.5" r="0.5" fill="#1a1a1b"/>
<circle cx="477.6" cy="432.9" r="0.6" fill="#1a1a1b"/>
<circle cx="475.6" cy="432.9" r="0.9" fill="#1a1a1b"/>
<circle cx="474.6" cy="433.6" r="0.5" fill="#1a1a1b"/>
<circle cx="472.5" cy="433.5" r="0.5" fill="#1a1a1b"/>
<circle cx="470.8" cy="432.7" r="0.7" fill="#1a1a1b"/>
<circle cx="469.8" cy="432.7" r="0.7" fill="#1a1a1b"/>
<circle cx="467.8" cy="433.5" r="0.6" fill="#1a1a1b"/>
<circle cx="466.4" cy="433.5" r="0.5" fill="#1a1a1b"/>
<circle cx="464.4" cy="433.4" r="1.0" fill="#1a1a1b"/>
<circle cx="462.4" cy="433.6" r="0.9" fill="#1a1a1b"/>
<circle cx="460.2" cy="432.8" r="0.8" fill="#1a1a1b"/>
<circle cx="458.9" cy="432.6" r="0.9" fill="#1a1a1b"/>
<circle cx="457.8" cy="432.1" r="0.5" fill="#1a1a1b"/>
<circle cx="455.4" cy="432.2" r="0.9" fill="#1a1a1b"/>
<circle cx="453.8" cy="431.8" r="0.7" fill="#1a1a1b"/>
<circle cx="452.5" cy="432.1" r="0.6" fill="#1a1a1b"/>
<circle cx="451.2" cy="431.5" r="0.6" fill="#1a1a1b"/>
<circle cx="449.0" cy="431.5" r="0.7" fill="#1a1a1b"/>
<circle cx="446.6" cy="431.1" r="0.8" fill="#1a1a1b"/>
<circle cx="445.6" cy="430.9" r="0.8" fill="#1a1a1b"/>
<circle cx="443.6" cy="430.4" r="0.6" fill="#1a1a1b"/>
<circle cx="441.8" cy="430.2" r="0.5" fill="#1a1a1b"/>
<circle cx="440.8" cy="430.2" r="0.6" fill="#1a1a1b"/>
<circle cx="438.9" cy="428.9" r="1.0" fill="#1a1a1b"/>
<circle cx="437.6" cy="428.7" r="0.6" fill="#1a1a1b"/>
<circle cx="435.4" cy="427.7" r="0.9" fill="#1a1a1b"/>
<circle cx="433.4" cy="427.6" r="0.9" fill="#1a1a1b"/>
<circle cx="432.5" cy="427.4" r="0.9" fill="#1a1a1b"/>
<circle cx="430.7" cy="426.5" r="0.7" fill="#1a1a1b"/>
<circle cx="428.9" cy="425.9" r="0.9" fill="#1a1a1b"/>
<circle cx="426.7" cy="425.9" r="1.0" fill="#1a1a1b"/>
<circle cx="425.3" cy="424.3" r="0.9" fill="#1a1a1b"/>
<circle cx="423.2" cy="424.0" r="0.5" fill="#1a1a1b"/>
<circle cx="422.6" cy="423.5" r="0.8" fill="#1a1a1b"/>
<circle cx="420.4" cy="421.9" r="0.7" fill="#1a1a1b"/>
<circle cx="419.5" cy="421.3" r="0.8" fill="#1a1a1b"/>
<circle cx="417.8" cy="420.0" r="0.5" fill="#1a1a1b"/>
<circle cx="416.1" cy="419.5" r="0.7" fill="#1a1a1b"/>
<circle cx="414.1" cy="418.8" r="0.6" fill="#1a1a1b"/>
<circle cx="413.3" cy="417.9" r="1.0" fill="#1a1a1b"/>
<circle cx="411.7" cy="416.9" r="1.0" fill="#1a1a1b"/>
<circle cx="410.2" cy="416.6" r="0.6" fill="#1a1a1b"/>
<circle cx="408.1" cy="414.6" r="0.5" fill="#1a1a1b"/>
<circle cx="407.3" cy="413.8" r="0.7" fill="#1a1a1b"/>
<circle cx="483.7" cy="430.9" r="0.7" fill="#3a3a3c"/>
<circle cx="504.7" cy="426.4" r="0.7" fill="#333335"/>
<circle cx="428.9" cy="417.8" r="0.7" fill="#0c0c0d"/>
<circle cx="487.6" cy="416.9" r="0.9" fill="#0c0c0d"/>
<circle cx="437.1" cy="423.0" r="1.1" fill="#3a3a3c"/>
<circle cx="424.7" cy="413.6" r="1.0" fill="#3a3a3c"/>
<circle cx="475.0" cy="415.4" r="1.0" fill="#3a3a3c"/>
<circle cx="473.7" cy="425.3" r="1.3" fill="#3a3a3c"/>
<circle cx="451.3" cy="395.3" r="1.3" fill="#333335"/>
<circle cx="498.7" cy="398.1" r="0.7" fill="#0c0c0d"/>
<circle cx="441.1" cy="400.6" r="0.6" fill="#2c2c2e"/>
<circle cx="475.5" cy="411.3" r="1.1" fill="#0c0c0d"/>
<circle cx="457.5" cy="400.3" r="0.9" fill="#333335"/>
<circle cx="456.0" cy="403.5" r="0.9" fill="#333335"/>
<circle cx="519.4" cy="415.5" r="0.8" fill="#0c0c0d"/>
<circle cx="494.0" cy="420.0" r="1.3" fill="#333335"/>
<circle cx="490.3" cy="389.2" r="1.0" fill="#3a3a3c"/>
<circle cx="494.1" cy="400.6" r="1.1" fill="#0c0c0d"/>
<circle cx="464.5" cy="412.7" r="0.9" fill="#2c2c2e"/>
<circle cx="471.3" cy="413.4" r="1.3" fill="#333335"/>
<circle cx="510.3" cy="423.0" r="1.2" fill="#0c0c0d"/>
<circle cx="496.3" cy="403.9" r="1.0" fill="#0c0c0d"/>
<circle cx="490.4" cy="429.3" r="1.1" fill="#0c0c0d"/>
<circle cx="497.5" cy="410.1" r="0.9" fill="#333335"/>
<circle cx="501.9" cy="402.5" r="0.7" fill="#333335"/>
<circle cx="429.4" cy="424.5" r="0.9" fill="#3a3a3c"/>
<circle cx="447.9" cy="402.4" r="1.2" fill="#2c2c2e"/>
<circle cx="452.2" cy="423.6" r="1.0" fill="#2c2c2e"/>
<circle cx="490.1" cy="398.2" r="0.8" fill="#2c2c2e"/>
<circle cx="494.2" cy="406.6" r="0.9" fill="#333335"/>
<circle cx="492.3" cy="402.6" r="1.0" fill="#333335"/>
<circle cx="485.2" cy="410.1" r="1.2" fill="#0c0c0d"/>
<circle cx="430.1" cy="419.5" r="0.8" fill="#0c0c0d"/>
<circle cx="462.3" cy="410.2" r="0.9" fill="#3a3a3c"/>
<circle cx="433.0" cy="405.3" r="1.2" fill="#0c0c0d"/>
<circle cx="522.1" cy="419.4" r="0.9" fill="#3a3a3c"/>
<circle cx="496.4" cy="399.2" r="0.9" fill="#0c0c0d"/>
<circle cx="451.7" cy="403.5" r="1.0" fill="#333335"/>
<circle cx="433.2" cy="426.3" r="0.7" fill="#2c2c2e"/>
<circle cx="455.0" cy="410.2" r="0.9" fill="#3a3a3c"/>
<circle cx="421.4" cy="412.0" r="1.3" fill="#2c2c2e"/>
<circle cx="459.4" cy="407.7" r="1.2" fill="#2c2c2e"/>
<circle cx="457.3" cy="391.5" r="1.1" fill="#3a3a3c"/>
<circle cx="491.1" cy="420.5" r="0.9" fill="#3a3a3c"/>
<circle cx="448.9" cy="403.6" r="0.9" fill="#3a3a3c"/>
<circle cx="418.9" cy="421.2" r="1.0" fill="#3a3a3c"/>
<circle cx="449.6" cy="426.4" r="1.0" fill="#2c2c2e"/>
<circle cx="458.5" cy="387.4" r="1.0" fill="#0c0c0d"/>
<circle cx="449.5" cy="409.9" r="0.6" fill="#0c0c0d"/>
<circle cx="472.5" cy="389.2" r="0.9" fill="#0c0c0d"/>
<circle cx="476.9" cy="409.5" r="0.9" fill="#3a3a3c"/>
<circle cx="446.0" cy="396.9" r="0.9" fill="#2c2c2e"/>
<circle cx="474.6" cy="402.9" r="0.9" fill="#2c2c2e"/>
<circle cx="464.6" cy="418.9" r="1.1" fill="#0c0c0d"/>
<circle cx="526.0" cy="424.5" r="0.6" fill="#333335"/>
<circle cx="496.1" cy="423.5" r="1.0" fill="#2c2c2e"/>
<circle cx="458.3" cy="419.9" r="0.7" fill="#333335"/>
<circle cx="487.3" cy="387.4" r="1.2" fill="#3a3a3c"/>
<circle cx="509.0" cy="408.9" r="0.6" fill="#333335"/>
<circle cx="469.8" cy="417.3" r="1.1" fill="#0c0c0d"/>
<circle cx="507.4" cy="410.7" r="0.7" fill="#333335"/>
<circle cx="472.0" cy="407.4" r="0.7" fill="#3a3a3c"/>
<circle cx="489.7" cy="397.4" r="1.2" fill="#2c2c2e"/>
<circle cx="436.9" cy="412.9" r="0.8" fill="#333335"/>
<circle cx="446.4" cy="397.4" r="1.0" fill="#333335"/>
<circle cx="426.8" cy="423.4" r="1.3" fill="#2c2c2e"/>
<circle cx="489.2" cy="418.3" r="0.7" fill="#333335"/>
<circle cx="498.3" cy="405.6" r="1.1" fill="#3a3a3c"/>
<circle cx="489.5" cy="395.1" r="1.1" fill="#3a3a3c"/>
<circle cx="444.1" cy="401.7" r="1.1" fill="#2c2c2e"/>
<circle cx="445.6" cy="413.0" r="1.1" fill="#333335"/>
<circle cx="518.7" cy="425.6" r="0.8" fill="#0c0c0d"/>
<circle cx="412.0" cy="413.7" r="1.3" fill="#0c0c0d"/>
<circle cx="451.4" cy="408.1" r="0.8" fill="#0c0c0d"/>
<circle cx="430.2" cy="422.8" r="0.8" fill="#3a3a3c"/>
<circle cx="497.7" cy="406.8" r="1.1" fill="#3a3a3c"/>
<circle cx="505.7" cy="413.6" r="0.9" fill="#3a3a3c"/>
<circle cx="412.9" cy="412.8" r="0.9" fill="#333335"/>
<circle cx="459.5" cy="425.2" r="0.7" fill="#333335"/>
<circle cx="452.6" cy="416.8" r="0.7" fill="#3a3a3c"/>
<circle cx="512.4" cy="426.9" r="0.9" fill="#333335"/>
<circle cx="441.5" cy="411.0" r="0.8" fill="#333335"/>
<circle cx="428.3" cy="410.7" r="1.0" fill="#0c0c0d"/>
<circle cx="476.9" cy="432.4" r="1.2" fill="#333335"/>
<circle cx="506.1" cy="412.4" r="1.1" fill="#333335"/>
<circle cx="460.6" cy="415.0" r="0.7" fill="#3a3a3c"/>
<circle cx="418.5" cy="412.8" r="0.8" fill="#3a3a3c"/>
<circle cx="434.6" cy="422.1" r="0.7" fill="#0c0c0d"/>
<circle cx="450.4" cy="423.9" r="0.9" fill="#333335"/>
<circle cx="459.1" cy="404.5" r="0.7" fill="#333335"/>
<circle cx="426.4" cy="409.5" r="0.7" fill="#0c0c0d"/>
<circle cx="522.7" cy="417.9" r="1.1" fill="#3a3a3c"/>
<circle cx="467.5" cy="408.9" r="1.1" fill="#3a3a3c"/>
<circle cx="501.2" cy="415.5" r="0.7" fill="#3a3a3c"/>
<circle cx="512.9" cy="422.8" r="0.7" fill="#0c0c0d"/>
<circle cx="480.3" cy="423.6" r="0.9" fill="#2c2c2e"/>
<circle cx="500.4" cy="425.0" r="1.2" fill="#333335"/>
<circle cx="462.0" cy="424.6" r="1.1" fill="#0c0c0d"/>
<circle cx="500.8" cy="413.5" r="1.1" fill="#3a3a3c"/>
<circle cx="507.5" cy="421.0" r="1.2" fill="#333335"/>
<circle cx="432.6" cy="407.0" r="0.8" fill="#2c2c2e"/>
<circle cx="479.3" cy="429.8" r="1.2" fill="#3a3a3c"/>
<circle cx="456.6" cy="422.6" r="1.2" fill="#0c0c0d"/>
<circle cx="510.4" cy="404.5" r="0.7" fill="#0c0c0d"/>
<circle cx="490.2" cy="428.4" r="0.9" fill="#0c0c0d"/>
<circle cx="508.7" cy="405.1" r="1.0" fill="#2c2c2e"/>
<circle cx="426.1" cy="411.2" r="0.7" fill="#2c2c2e"/>
<circle cx="512.7" cy="414.7" r="0.8" fill="#3a3a3c"/>
<circle cx="474.7" cy="396.6" r="0.8" fill="#3a3a3c"/>
<circle cx="454.6" cy="428.0" r="0.9" fill="#0c0c0d"/>
<circle cx="435.8" cy="427.7" r="1.0" fill="#2c2c2e"/>
<circle cx="446.3" cy="400.3" r="1.2" fill="#333335"/>
<circle cx="438.5" cy="412.1" r="1.1" fill="#0c0c0d"/>
<circle cx="491.9" cy="432.3" r="1.1" fill="#2c2c2e"/>
<circle cx="424.7" cy="421.2" r="0.8" fill="#2c2c2e"/>
<circle cx="417.4" cy="415.0" r="0.9" fill="#0c0c0d"/>
<circle cx="452.9" cy="416.7" r="1.0" fill="#2c2c2e"/>
<circle cx="524.3" cy="423.8" r="0.6" fill="#2c2c2e"/>
<circle cx="469.2" cy="418.2" r="0.6" fill="#3a3a3c"/>
<circle cx="477.1" cy="406.5" r="1.1" fill="#333335"/>
<circle cx="433.9" cy="437.2" r="1.0" fill="#1d1d1e" opacity="0.90"/>
<circle cx="449.5" cy="438.8" r="0.5" fill="#1d1d1e" opacity="0.73"/>
<circle cx="450.5" cy="437.0" r="0.6" fill="#1d1d1e" opacity="0.98"/>
<circle cx="423.8" cy="431.7" r="1.1" fill="#1d1d1e" opacity="0.66"/>
<circle cx="514.4" cy="438.8" r="0.9" fill="#1d1d1e" opacity="0.83"/>
<circle cx="500.0" cy="437.0" r="0.5" fill="#1d1d1e" opacity="0.76"/>
<circle cx="544.8" cy="416.6" r="1.0" fill="#1d1d1e" opacity="0.86"/>
<circle cx="539.4" cy="420.0" r="0.7" fill="#1d1d1e" opacity="0.90"/>
<circle cx="428.4" cy="402.8" r="0.7" fill="#1d1d1e" opacity="0.82"/>
<circle cx="405.0" cy="415.3" r="0.8" fill="#1d1d1e" opacity="0.99"/>
<circle cx="432.0" cy="435.5" r="1.0" fill="#1d1d1e" opacity="0.92"/>
<circle cx="420.0" cy="428.5" r="1.0" fill="#1d1d1e" opacity="0.75"/>
<circle cx="412.5" cy="423.0" r="1.2" fill="#1d1d1e" opacity="0.88"/>
<circle cx="537.0" cy="413.0" r="1.0" fill="#1d1d1e" opacity="0.71"/>
<circle cx="535.0" cy="422.0" r="0.6" fill="#1d1d1e" opacity="0.83"/>
<circle cx="458.0" cy="437.0" r="1.1" fill="#1d1d1e" opacity="0.92"/>
<circle cx="470.0" cy="438.2" r="0.7" fill="#1d1d1e" opacity="0.66"/>
<circle cx="480.0" cy="437.0" r="0.9" fill="#1d1d1e" opacity="0.95"/>
<circle cx="492.0" cy="436.5" r="0.6" fill="#1d1d1e" opacity="0.90"/>
<circle cx="509.0" cy="435.5" r="0.6" fill="#1d1d1e" opacity="0.72"/>
<circle cx="517.0" cy="438.0" r="0.5" fill="#1d1d1e" opacity="0.72"/>
<circle cx="524.0" cy="431.0" r="0.8" fill="#1d1d1e" opacity="0.99"/>
<circle cx="413.0" cy="410.5" r="1.2" fill="#1d1d1e" opacity="0.67"/>
<circle cx="540.0" cy="410.0" r="0.7" fill="#1d1d1e" opacity="0.98"/>
<circle cx="426.0" cy="403.5" r="0.6" fill="#1d1d1e" opacity="0.73"/>
</g>
<!-- 50_plant -->
<g id="plant" stroke-linejoin="round" stroke-linecap="round">
  <!-- transfer pipe (U-bend + riser + top arc) -->
  <path d="M713.800 402V426A44.600 45.200 0 0 0 803 426L801.300 110C801.500 98 806 88 827.500 86.900C846 87 858 96 861.300 135H872.500C870 92 852 76 826 76C803 76.500 791.500 86 791.200 101L790.800 426A32.400 31.600 0 0 1 726 426V402Z" fill="#8f96a6" stroke="#101012" stroke-width="1.500"/>
  <path d="M716.300 404V426C716.300 449.500 735 468.500 758 468.700" fill="none" stroke="#eceef3" stroke-width="1.500"/>
  <path d="M793.500 424L793.800 103C794 92 800 84 812 79.500" fill="none" stroke="#eceef3" stroke-width="1.400"/>

  <!-- hopper -->
  <path d="M662.500 258.800L778.800 258.800L746.500 380.600L695.600 380.600Z" fill="#8f96a6"/>
  <path d="M664.500 260L668.500 260L700 379.500L696.500 379.500Z" fill="#f1f2f6"/>
  <path d="M688.900 355.600L750.300 355.600L748.400 362.600L690.800 362.600Z" fill="#3aa435"/>
  <path d="M689 355.700H750M690.800 362.600H748.300" fill="none" stroke="#0d0d0e" stroke-width="1.250"/><path d="M690 359.300H749" fill="none" stroke="#2a7a27" stroke-width="0.700"/>
  <path d="M726 380.300C734 380 740.500 377.500 744.600 370.500L743.800 380.600Z" fill="#0d0d0e" stroke="#0d0d0e" stroke-width="0.600"/>
  <path d="M775.800 259.500L743.800 380.600L695.600 380.600L662.500 258.800L776 258.800" fill="none" stroke="#0d0d0e" stroke-width="1.500"/>
  <!-- hopper flange -->
  <path d="M688.800 385L750.300 384.500L750.600 398.600L727.500 403L713 403L689.400 398.600Z" fill="#dfe1e8" stroke="#0d0d0e" stroke-width="1.500"/>
  <path d="M750.300 386C749.500 392 746 396.500 739 400L750.600 398.600Z" fill="#0d0d0e"/>
  <path d="M690.500 386.500V397.500" stroke="#fafafc" stroke-width="1.600" fill="none"/>

  <!-- reactor: top funnel -->
  <path d="M840.600 135.600L890 135.600L872.500 180L857.500 180Z" fill="#e0e2e9" stroke="#0d0d0e" stroke-width="1.400"/>
  <path d="M855 140.200H885.500" fill="none" stroke="#0d0d0e" stroke-width="1.100"/>
  <path d="M842.500 137L859 179" fill="none" stroke="#f6f7f9" stroke-width="1.200" transform="translate(1.800 0)"/>
  <!-- knob -->
  <path d="M858.300 180.500H872.400V203.500H858.300Z" fill="#e0e2e9"/>
  <ellipse cx="865.400" cy="191.500" rx="9.300" ry="10.800" fill="#e0e2e9"/>
  <path d="M861 182.200C854.500 185 854.500 198 861 201.200M869.800 182.200C876.300 185 876.300 198 869.800 201.200" fill="none" stroke="#0d0d0e" stroke-width="1.400"/>
  <path d="M860.500 181H870.500M860 202.800H871" stroke="#0d0d0e" stroke-width="1" fill="none"/>
  <!-- collar + bottle -->
  <path d="M858.300 203.500H872.600V215C873.500 222 884.500 230 884.800 240L885.600 315.500C885.600 319.500 884 321 884 321L870.800 336V345.600H859.400V336L846 321C846 321 844.400 319.500 844.400 315.500L845.400 240C845.800 230 857.500 222 858.300 215Z" fill="#e0e2e9" stroke="#0d0d0e" stroke-width="1.400"/>
  <path d="M858.500 208.200H872.500" stroke="#0d0d0e" stroke-width="1.100" fill="none"/>
  <path d="M847.500 237.500C858 240.500 872 240.500 883 237.500" stroke="#0d0d0e" stroke-width="1.100" fill="none"/>
  <path d="M844.900 255.500C857 258.600 873 258.600 885.200 255.500L885.300 262.200C873 265.800 857 265.800 844.800 262.200Z" fill="#3aa435" stroke="#0d0d0e" stroke-width="0.900"/>
  <path d="M846.200 319.500C857 322.500 873 322.500 883.800 319.500" stroke="#0d0d0e" stroke-width="1.200" fill="none"/>
  <path d="M847 242V314" stroke="#f4f5f8" stroke-width="1.500" fill="none"/>
  <!-- lower cup -->
  <path d="M840.600 346.300L888 346.300L887.400 372L886 389L876.300 413.800L852.500 413.800L845 389L842.500 370Z" fill="#e0e2e9" stroke="#0d0d0e" stroke-width="1.400"/>
  <path d="M855.600 386.800H884.500" stroke="#0d0d0e" stroke-width="1.200" fill="none"/>
  <path d="M876.300 413.800C874 411 870 410.800 866 411.200C871 412 872.500 412.800 873 413.800Z" fill="#0d0d0e"/>
  <path d="M843.500 349L847 389" stroke="#f6f7f9" stroke-width="1.400" fill="none"/>
  <!-- small neck -->
  <path d="M858.800 413.800H873.800V427.500H858.800Z" fill="#e0e2e9" stroke="#0d0d0e" stroke-width="1.300"/>
  <!-- collecting box -->
  <path d="M832.500 427.500H897.500V470.600H832.500Z" fill="#8f96a6"/>
  <path d="M834.300 429V469.500H838.200L837.500 429Z" fill="#f1f2f6"/>
  <path d="M855.600 442.500H885C892 442.500 894.500 445.500 894.500 452V470" fill="none" stroke="#0d0d0e" stroke-width="1.300"/>
  <path d="M880 442.500C890 442.800 894.300 446 894.500 456C893 447.500 890 445 880 444.200Z" fill="#0d0d0e"/>
  <path d="M833.300 469.500L832.500 427.500L897 427.500M838.500 470.600H893" fill="none" stroke="#0d0d0e" stroke-width="1.500"/>
</g>
<!-- 60_products -->
<g id="gas">
  <path d="M1126.200 116.800C1132 122 1142 130 1149.700 137.500C1155 143.500 1159 148.500 1162.300 153.800C1166.500 160.500 1169.500 166 1171.400 171.900C1173.500 177.500 1175 182 1175 186.400C1175 191.500 1174.200 196.500 1172.300 200.800C1170.800 204.800 1168.800 208.500 1166 211.700C1163.500 215 1160.500 218.200 1156.900 220.700C1154 222.800 1151 224.400 1147.900 225.300C1151 221.500 1153.300 217.800 1155.100 213.500C1156.800 210 1158.600 206.500 1159.600 202.600C1160.300 199 1159.800 195.500 1158.700 191.800C1157.500 188 1155.500 184.500 1153.300 181C1151.200 177.800 1148.500 175 1146.100 171.900C1144.800 170 1143.800 168 1143.300 165.600C1141.500 169.500 1140.200 173.500 1138.800 177.300C1137.200 181 1135.300 184.500 1134.300 188.200C1133.500 191.800 1133.300 195.500 1133.400 199C1131.500 196 1130 193 1128.900 190C1127.800 186.800 1127.200 183.500 1127.100 180C1124.500 183 1122.200 186.300 1120.700 190C1119.500 193.500 1118.700 197 1118.900 200.800C1119 204.500 1119.500 208.300 1120.700 211.700C1121.800 215 1123.300 218 1125.300 220.700C1126.100 222 1127 223.200 1128 224.300C1124 223.800 1120.500 222.500 1117.100 220.700C1113.800 218.800 1110.700 216.500 1108.100 213.500C1105.400 210.300 1103.200 206.600 1101.800 202.600C1100.600 199.200 1099.800 195.600 1099.900 191.800C1100.100 187.500 1101.700 183.200 1103.600 179.100C1105.900 174 1108.600 169.200 1111.700 164.700C1114.600 160.400 1117.900 156.400 1120.700 152C1123.200 148 1125.600 143.900 1127.100 139.400C1128.200 135.900 1128.900 132.200 1128.900 128.500C1128.800 124.500 1127.800 120.500 1126.200 116.800Z" fill="#f5c072"/>
  <g fill="none" stroke="#1f1f21" stroke-width="1.150" stroke-linecap="round" stroke-linejoin="round">
    <path d="M1124.200 114.600C1126.200 119 1127.200 123.500 1127.100 128C1127 132 1126.200 135.800 1125 139.400C1123.500 143.900 1121.100 148 1118.600 152C1115.800 156.400 1112.500 160.400 1109.600 164.700C1106.500 169.200 1103.600 174 1101.300 179.100C1099.400 183.200 1097.900 187.500 1097.700 191.800C1097.600 195.600 1098.300 199.200 1099.600 202.600C1101.100 206.600 1103.200 210.300 1105.900 213.500C1108.500 216.500 1111.600 219 1115 220.900C1118.500 222.700 1122.500 223.900 1126.500 224.300"/>
    <path d="M1124 114.700C1130 120.500 1139 128.500 1146.700 136C1152 141.500 1156 146.500 1159.300 151.800C1163.500 158.500 1166.500 164 1168.400 169.900C1170.500 175.500 1171.800 180 1171.800 184.400C1171.800 189.500 1171.200 194.500 1169.600 198.800C1168.100 202.800 1166.100 206.500 1163.300 209.700C1160.800 213 1157.800 216.200 1154.200 218.700C1152 220.300 1149.500 222 1147 223.500"/>
    <path d="M1146.500 224C1149 220.500 1151 217 1152.800 213C1154.500 209.500 1156.300 206 1157.300 202.100C1158 198.500 1157.500 195 1156.400 191.300C1155.200 187.500 1153.200 184 1151 180.500C1148.900 177.300 1146.200 174.500 1143.800 171.400C1143 170 1142.300 167 1142.400 163.500C1140 167.500 1138 172.500 1136.600 176.300C1135 180 1133.100 183.500 1132.100 187.200C1131.300 190.800 1131.400 195 1132.800 198.500"/>
    <path d="M1132.500 198C1130.500 195.500 1128.500 192.500 1127.400 189.500C1126.300 186.300 1125.700 183 1125.600 178.500C1123 182 1120.700 185.800 1119.200 189.500C1118 193 1117.200 196.500 1117.400 200.300C1117.500 204 1118 207.800 1119.200 211.200C1120.300 214.500 1121.800 217.500 1123.800 220.200C1124.600 221.500 1125.500 222.700 1126.500 223.800"/>
  </g>
</g>
<g id="oil">
  <!-- barrel -->
  <path d="M1102.700 291.500V384C1110 390.500 1124 394 1139 394C1154 394 1168 390.500 1175 384V291.500Z" fill="#8b91a1"/>
  <path d="M1168.500 300V386.500C1171.500 385.500 1173.500 384.700 1175 384V296Z" fill="#6e7383"/>
  <path d="M1171.600 298V385" stroke="#c6c9d3" stroke-width="1.100" fill="none"/>
  <path d="M1104.200 306V383" stroke="#2b2c31" stroke-width="1.100" fill="none"/>
  <path d="M1102.700 384C1110 390.500 1124 394 1139 394C1154 394 1168 390.500 1175 384" fill="none" stroke="#1a1a1d" stroke-width="1.200"/>
  <!-- ribs -->
  <path d="M1102.700 326.500C1112 331 1126 333 1139 333C1154 333 1167 330.500 1175 326.500" fill="none" stroke="#2a2b30" stroke-width="2.200"/>
  <path d="M1102.700 324.300C1112 328.800 1126 330.800 1139 330.800C1154 330.800 1167 328.300 1175 324.300" fill="none" stroke="#a9aebb" stroke-width="1.300"/>
  <path d="M1102.700 352.500C1112 357 1126 359 1139 359C1154 359 1167 356.500 1175 352.500" fill="none" stroke="#2a2b30" stroke-width="2.200"/>
  <path d="M1102.700 350.300C1112 354.800 1126 356.800 1139 356.800C1154 356.800 1167 354.300 1175 350.300" fill="none" stroke="#a9aebb" stroke-width="1.300"/>
  <path d="M1175.500 324.500c1.800 0.800 1.800 2.700 0 3.500M1175.500 350.500c1.800 0.800 1.800 2.700 0 3.500" fill="none" stroke="#4a4c55" stroke-width="1"/>
  <!-- lid -->
  <path d="M1108 300.500C1116 305.500 1128 307.800 1141 307.800C1155 307.800 1167 305.300 1174 300.500" fill="none" stroke="#33343a" stroke-width="2.300"/>
  <ellipse cx="1143.800" cy="291.300" rx="31.200" ry="11.800" fill="#9aa0b0"/>
  <path d="M1112.600 291.300A31.200 11.800 0 0 0 1175 291.300" fill="none" stroke="#5d6170" stroke-width="1.300"/>
  <path d="M1114 288A31.200 11.800 0 0 1 1174.500 289" fill="none" stroke="#d4d7df" stroke-width="0.900"/>
  <path d="M1113 295.500C1120 301 1131 303.300 1143 303.300C1156 303.300 1168 300.700 1175 295.500" fill="none" stroke="#b6bac6" stroke-width="1.400"/>
  <ellipse cx="1155.500" cy="290.300" rx="4.400" ry="2.200" fill="#aeb3c1" stroke="#4c4f5b" stroke-width="0.900"/>
  <!-- drop -->
  <path d="M1100.600 251.500C1103 256 1104.500 260.500 1105.900 264.400C1108.500 271 1111 277.500 1113.500 283.800C1116.200 290.500 1118.800 297 1120 303.200C1121.300 308.500 1122.500 313.500 1122.100 318.300C1121.800 323 1120.300 327.500 1117.800 331.200C1115.300 334.800 1112 337.800 1108.100 339.800C1104.100 341.900 1099.700 343 1095.200 343C1090.500 343 1085.900 341.100 1082.200 337.700C1078.900 334.700 1076.700 331 1075.800 326.900C1074.700 322.700 1074.200 318.300 1074.700 314C1075.600 308 1077.700 302.200 1080.100 296.700C1083.400 289.400 1087.500 282.500 1090.900 275.200C1094.500 267.500 1098 259.700 1100.600 251.500Z" fill="#3a3b39" stroke="#0b0b0c" stroke-width="1.700" stroke-linejoin="round"/>
  <path d="M1082 302C1078.800 310 1077.800 318.500 1079.400 325C1081.200 331.500 1086 337 1092 339.300C1096.500 340.800 1101.500 340.600 1105.500 338.800C1099 338.600 1093.500 336.200 1089.800 332.200C1086.300 328.300 1084.300 323.200 1083.300 318C1082.400 313 1082 307.500 1082 302Z" fill="#d6d6d6"/><path d="M1083.500 309C1083 316 1084.500 323 1088 328.500" fill="none" stroke="#f4f4f4" stroke-width="0.800" stroke-linecap="round"/>
</g>
<g id="rcb">
  <path d="M1135.300 452.400L1125.800 460.100L1114 468.400L1102.200 476.600L1092.700 484.900L1088.600 490.800L1098.600 495.600L1112.800 499.100L1124.600 502.100L1141.200 501.500L1157.700 499.700L1175.500 496.700L1190.200 492L1181.400 483.700L1169.600 474.300L1157.700 464.800L1145.900 456.500Z" fill="#070708"/>
  <path d="M1135.300 452.400L1125.800 460.100L1114 468.400L1102.200 476.600L1092.700 484.900L1088.600 490.800L1098.600 495.600L1112.800 499.100L1124.600 502.100L1141.200 501.500L1141.200 493.200L1136.500 484.900L1140.600 477.800L1134.100 470.700L1137 463.600Z" fill="#252527"/>
  <g fill="#111112">
    <circle cx="1121.100" cy="510" r="1.200"/><circle cx="1143.600" cy="505" r="1.300"/><circle cx="1142.400" cy="510.600" r="0.900"/>
    <circle cx="1156.600" cy="511.300" r="1.200"/><circle cx="1163.100" cy="512.300" r="1.900"/><circle cx="1173.100" cy="511.500" r="1.400"/>
    <circle cx="1172.900" cy="504.700" r="1.400"/><circle cx="1168.700" cy="501.500" r="1.200"/><circle cx="1184.300" cy="513.300" r="1.300"/>
    <circle cx="1161.300" cy="516.800" r="1"/><circle cx="1175.500" cy="519" r="0.900"/><circle cx="1154.800" cy="504.800" r="0.800"/>
    <circle cx="1159.500" cy="503.500" r="0.800"/><circle cx="1188.500" cy="500.500" r="0.600"/><circle cx="1128.800" cy="513.300" r="0.600"/>
    <circle cx="1168.400" cy="517.400" r="0.700"/><circle cx="1148.900" cy="508.300" r="0.600"/><circle cx="1191.400" cy="506.200" r="0.600"/>
    <circle cx="1134" cy="508" r="0.500"/><circle cx="1180" cy="507" r="0.600"/><circle cx="1151" cy="515" r="0.500"/>
  </g>
</g>
<!-- 70_factory -->
<defs>
  <pattern id="tread2" width="9" height="5" patternUnits="userSpaceOnUse">
    <rect width="9" height="5" fill="#131314"/>
    <path d="M0.500 0.500L4.500 3.200L8.500 0.500" stroke="#48484a" stroke-width="0.900" fill="none"/>
    <path d="M4.500 0V5" stroke="#2a2a2c" stroke-width="0.500" fill="none"/>
  </pattern>
</defs>
<g id="factory">
  <path d="M748.300 612.900L765.200 620.200L766.800 612.900L784.100 620.200L784.600 612.900L801 619.800L804.500 590L807.900 537.800L821.700 537.800L824.500 590L826.500 612L826.500 658.500L748 658.500Z" fill="#e3e6ee"/>
  <path d="M748.300 612.900L765.700 619.600L765.200 634.300L764 623.500Z" fill="#0e0e10"/>
  <path d="M766.800 612.900L784.400 619.800L783.400 635L782.500 623.500Z" fill="#0e0e10"/>
  <path d="M784.600 612.900L801.500 619.300L799.600 634.300L799.200 623.300Z" fill="#0e0e10"/>
  <path d="M748.200 613V656" fill="none" stroke="#27272a" stroke-width="0.900"/>
  <path d="M800.800 621L804.500 590L807.900 538.500" fill="none" stroke="#141416" stroke-width="1.200"/>
  <path d="M807 537.700H822.500" fill="none" stroke="#141416" stroke-width="1.100"/>
  <path d="M821.800 538.500L824.500 590L825.400 598" fill="none" stroke="#3a3a3e" stroke-width="0.900"/>
  <path d="M741.300 660.400C765 659.200 790 659.600 813.500 660.200C790 661.600 765 661.600 741.300 660.400Z" fill="#222225" stroke="#222225" stroke-width="0.700"/>
</g>
<g id="newTires">
  <!-- left tire -->
  <path d="M822.800 601.800H848A8.400 40.600 0 0 1 848 683H822.800A8.400 40.600 0 0 1 822.800 601.800Z" fill="#4f4f51"/>
  <path d="M822.800 601.800H841.100A2.800 40.200 0 0 0 842.500 682.600L822.800 683A8.400 40.600 0 0 1 822.800 601.800Z" fill="url(#tread2)"/>
  <!-- right tire -->
  <path d="M853.800 601.800H881.200V683.200H852.400A6.500 40.400 0 0 1 853.800 601.800Z" fill="url(#tread2)"/>
  <ellipse cx="881.300" cy="642.500" rx="12.800" ry="41.100" fill="#4d4d4f"/>
  <ellipse cx="881.600" cy="642.400" rx="8.500" ry="27" fill="#f0f0f1"/>
  <ellipse cx="883.600" cy="640.400" rx="6.800" ry="25.200" fill="#0f0f10"/>
</g>
<!-- 80_vehicles -->
<g id="truck" stroke-linecap="round" stroke-linejoin="round">
  <!-- trailer -->
  <defs>
    <linearGradient id="trTop" gradientUnits="userSpaceOnUse" x1="352" y1="0" x2="400" y2="0">
      <stop offset="0" stop-color="#1c1c1e" stop-opacity="0"/><stop offset="1" stop-color="#1c1c1e" stop-opacity="1"/>
    </linearGradient>
  </defs>
  <path d="M354 529.400H449.800" fill="none" stroke="url(#trTop)" stroke-width="1.300"/>
  <path d="M449.800 529V623.300" fill="none" stroke="#1c1c1e" stroke-width="1.400"/>
  <path d="M392 623.300H449.800" fill="none" stroke="#1c1c1e" stroke-width="1.400"/>
  <path d="M420 627.400H472M428 632.600H462" fill="none" stroke="#2a2a2c" stroke-width="1.200"/>
  <path d="M436.300 633.700H461.300V646.200H434" fill="#f7f7f8" stroke="#1c1c1e" stroke-width="1.200"/>
  <!-- gap / deflector -->
  <path d="M458.200 530.400V626.400" fill="none" stroke="#3a3a3c" stroke-width="0.900"/>
  <path d="M469 534.600C464.500 539 462.600 545 462.300 551.300L461.300 576.300L467.600 577.400" fill="none" stroke="#1c1c1e" stroke-width="1"/>
  <path d="M461 598.500l5.500-1.600M461.500 604.700l5.500-1.600" fill="none" stroke="#1c1c1e" stroke-width="1.400"/>
  <!-- cab -->
  <path d="M471.700 529.400L486.300 528.300C492 529.300 498.500 531 504 533C510 535.200 515.500 537.500 520.700 540.200C525.500 542.700 529.700 545.500 533.400 548.600C537.300 552 540.600 555.300 543.500 559.200C546.200 563 548.500 567.500 550.300 572L555.200 584.700L559.400 593L560.400 599.300L561.400 646.200L538.500 646.200A17.700 17.700 0 0 0 503.100 646.200L480 646.200L480 632.700L485.300 627.400L471.700 627.400Z" fill="#f2a21c"/>
  <path d="M503 570L535.400 570L543.700 588.800L526 588.800L522.800 584.700L503 582.600Z" fill="#f3f3f4"/>
  <g fill="none" stroke="#1a1611" stroke-width="1.100">
    <path d="M485.600 529V560C485.600 580 485 600 484.600 627" stroke-width="1.500"/>
    <path d="M486 557.500C502 559.600 525 560 542.500 560.700"/>
    <path d="M486 529.500C486.500 545 488 554 494 558" stroke-width="1.300"/>
    <path d="M543.700 563.800L557.300 591L555.200 624.300"/>
    <path d="M502.500 583L501 614C510 615 522 615.500 530 616L538.500 622"/>
    <path d="M503 570V582.600"/>
    <path d="M494 601.500h6M503.500 592.200h4" stroke-width="1.300"/>
    <path d="M545.500 634.500c3 0.700 5 1 7 1M546.500 640.300c2.500 0.600 4.500 0.800 6.500 0.800"/>
    <path d="M480.500 633V646.200"/>
    <path d="M560.600 600V645" stroke-width="0.900"/>
  </g>
  <path d="M502.500 646A18.300 18.300 0 0 1 539.100 646" fill="none" stroke="#fbfbfc" stroke-width="1.300"/>
  <circle cx="520.800" cy="640.400" r="15.500" fill="#3e3e40"/>
  <circle cx="520.800" cy="640.400" r="9.500" fill="#8f8f91"/>
  <circle cx="520.800" cy="640.400" r="5.200" fill="none" stroke="#6d6d6f" stroke-width="1.200" stroke-dasharray="1.400 1.900"/>
  <circle cx="520.800" cy="640.400" r="2.600" fill="#7a7a7c" stroke="#666668" stroke-width="0.600"/>
</g>
<g id="car" stroke-linecap="round" stroke-linejoin="round">
  <path d="M266.100 625.400L281.700 622.500L302.500 609.800C310 608.300 318 607.700 326.200 607.600C335 607.800 343.500 608.800 351.500 610.600L372.300 621.700L388.600 623.200C396 624 404 625.200 410.900 626.900C416.500 628 421.500 629.500 425.700 631.400C428.500 633 430.500 635.200 431.600 638C433 641.500 434 645.700 433.900 649.900C433.500 651.500 432.800 652.800 431.600 653.600L410.900 655.100L307 655.900L274.300 654.400L266.100 652.100L262.400 642.500L266.100 632.100Z" fill="#2a9fd8"/>
  <path d="M304 611.300C311.500 609.800 319 609.200 326.200 609.100C334.500 609.300 342.500 610.200 350 611.600L369.300 621.700L302.500 621Z" fill="#f3f3f4"/>
  <path d="M301.500 612.300L290.500 620.300L301.500 620.800Z" fill="#7fc9ea"/>
  <path d="M266.400 627L263.800 632.500L264.600 640L262.800 643.500L265.500 651.500" fill="none" stroke="#f5fbfd" stroke-width="1.400"/>
  <g fill="none" stroke="#14202b" stroke-width="1.100">
    <path d="M292 621.500C315 621.300 345 621.800 371 622.600" stroke-width="1.600"/>
    <path d="M281 623L302.500 610C310 608.300 318 607.200 326.200 607.200C335 607.400 344 608.500 352 610.400L372 621.300"/>
    <path d="M302.300 611.500V620.800"/>
    <path d="M266.300 625.200C272 624.300 277 623.600 281.500 623"/>
    <path d="M277 626.800C285 625.600 294 625.200 303 625.400"/>
    <path d="M320 649.600C336 650 352 650.200 368 650.200" stroke-width="1"/>
    <path d="M388 623.400C400 624.300 412 626.300 421 629.500C425 631 427.500 633.500 428.800 637"/>
    <path d="M383 636.500C385 633.800 387.500 631.500 390.500 630"/>
    <path d="M279 637.500C280.500 634.500 283 632 286 630.500M300 634C303.500 637 306.500 641 308 645.500"/>
    <path d="M306 656.200C330 656.800 370 656.600 382 656" stroke-width="1.200" stroke="#262c33"/>
    <path d="M266.200 625.500L263.200 632L264 640L262.200 643.500L263.500 649.500L266 652" stroke-width="0.800"/>
  </g>
  <circle cx="372.600" cy="623.300" r="2.500" fill="#2a9fd8" stroke="#14202b" stroke-width="0.900"/>
  <path d="M304.300 643A13.500 13.500 0 0 0 295 636.600M407.900 643A13.500 13.500 0 0 0 398.600 636.600" fill="none" stroke="#f5fbfd" stroke-width="1.200"/>
  <g>
    <circle cx="291.800" cy="650" r="12.500" fill="#3e3e40"/>
    <circle cx="291.800" cy="650" r="8.600" fill="#8d8d8f"/>
    <path d="M291.800 650l-5.500-4.200M291.800 650l1.500-6.800M291.800 650l6.500-1.500M291.800 650l2.800 6M291.800 650l-5 4.800" stroke="#5c5c5e" stroke-width="1.100" fill="none"/>
    <circle cx="395.300" cy="650" r="12.500" fill="#3e3e40"/>
    <circle cx="395.300" cy="650" r="8.600" fill="#8d8d8f"/>
    <path d="M395.300 650l-5.500-4.200M395.300 650l1.500-6.800M395.300 650l6.500-1.500M395.300 650l2.800 6M395.300 650l-5 4.800" stroke="#5c5c5e" stroke-width="1.100" fill="none"/>
  </g>
</g>
<!-- 90_labels -->
<g class="lbl">
  <text x="143" y="448" textLength="74" lengthAdjust="spacingAndGlyphs">Worn Tires</text>
  <text x="376.3" y="357.5" textLength="71.5" lengthAdjust="spacingAndGlyphs">Recovered</text>
  <text x="376.5" y="377" textLength="88" lengthAdjust="spacingAndGlyphs">Textile Fibres</text>
  <text x="490.5" y="357.5" textLength="71.5" lengthAdjust="spacingAndGlyphs">Recovered</text>
  <text x="490" y="377" textLength="32.5" lengthAdjust="spacingAndGlyphs">Steel</text>
  <text x="470.6" y="457.8" textLength="120.5" lengthAdjust="spacingAndGlyphs">Rubber Granulate</text>
  <text x="1138.5" y="249.2" textLength="26" lengthAdjust="spacingAndGlyphs">Gas</text>
  <text x="1138.5" y="418.3" textLength="17.5" lengthAdjust="spacingAndGlyphs">Oil</text>
  <text x="1138.8" y="532.8" textLength="168.5" lengthAdjust="spacingAndGlyphs">Recovered Carbon Black</text>
  <text x="1138.8" y="551.7" textLength="34.5" lengthAdjust="spacingAndGlyphs">(rCB)</text>
  <text x="774.3" y="679.5" textLength="67.5" lengthAdjust="spacingAndGlyphs">New Tires</text>
</g>
</svg>
</body>
</html>
